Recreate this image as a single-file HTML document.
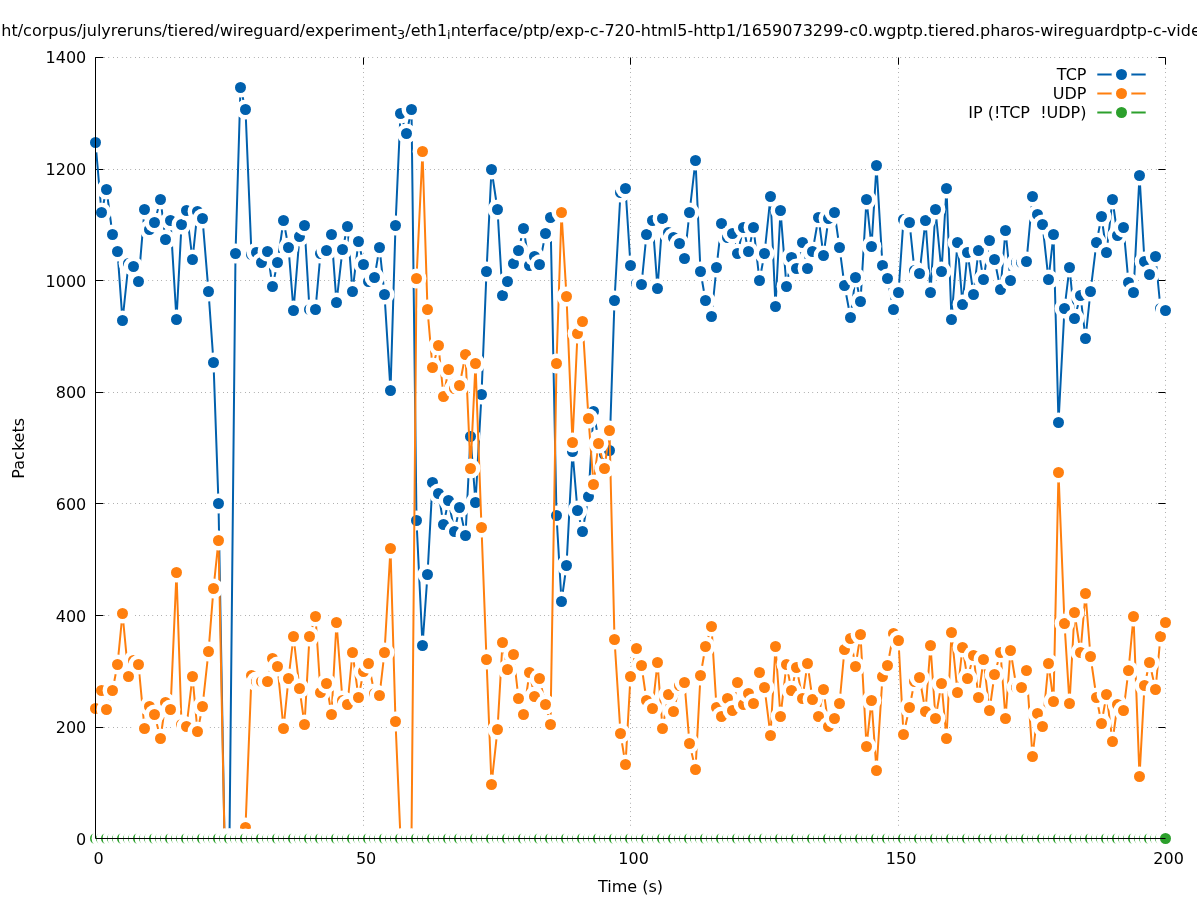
<!DOCTYPE html>
<html lang="en"><head><meta charset="utf-8"><title>Packets over time</title>
<style>html,body{margin:0;padding:0;background:#fff;overflow:hidden}svg{display:block;font-family:"DejaVu Sans","Liberation Sans",sans-serif;font-size:16px;fill:#000}.g{stroke:#000;stroke-width:1;stroke-dasharray:.31 4.09;fill:none}.t{stroke:#000;stroke-width:1;fill:none}.h{fill:#fff}text{white-space:pre}</style></head><body>
<svg width="1197" height="900" viewBox="0 0 1197 900">
<rect width="1197" height="900" fill="#fff"/>
<g class="g">
<path d="M95.56 838.5H1165.5"/>
<path d="M95.56 727.5H1165.5"/>
<path d="M95.56 615.5H1165.5"/>
<path d="M95.56 503.5H1165.5"/>
<path d="M95.56 392.5H1165.5"/>
<path d="M95.56 280.5H1165.5"/>
<path d="M95.56 169.5H1165.5"/>
<path d="M95.56 57.5H1165.5"/>
<path d="M95.5 838.44V57.5"/>
<path d="M363.5 838.44V57.5"/>
<path d="M630.5 838.44V57.5"/>
<path d="M898.5 838.44V57.5"/>
<path d="M1165.5 838.44V57.5"/>
</g>
<g class="t">
<path d="M95.5 838.5h7.9 M1165.5 838.5h-7.2"/>
<path d="M95.5 727.5h7.9 M1165.5 727.5h-7.2"/>
<path d="M95.5 615.5h7.9 M1165.5 615.5h-7.2"/>
<path d="M95.5 503.5h7.9 M1165.5 503.5h-7.2"/>
<path d="M95.5 392.5h7.9 M1165.5 392.5h-7.2"/>
<path d="M95.5 280.5h7.9 M1165.5 280.5h-7.2"/>
<path d="M95.5 169.5h7.9 M1165.5 169.5h-7.2"/>
<path d="M95.5 57.5h7.9 M1165.5 57.5h-7.2"/>
<path d="M95.5 838.5v-7.2 M95.5 57.5v7.2"/>
<path d="M363.5 838.5v-7.2 M363.5 57.5v7.2"/>
<path d="M630.5 838.5v-7.2 M630.5 57.5v7.2"/>
<path d="M898.5 838.5v-7.2 M898.5 57.5v7.2"/>
<path d="M1165.5 838.5v-7.2 M1165.5 57.5v7.2"/>
</g>
<g>
<text x="1086.5" y="80.3" text-anchor="end" xml:space="preserve">TCP</text>
<path d="M1097.3 74.5H1145.7" stroke="#0060ad" stroke-width="2" fill="none"/>
<circle class="h" cx="1121.5" cy="74.5" r="9.9"/><circle cx="1121.5" cy="74.5" r="5.5" fill="#0060ad"/>
<polyline points="95.5,142.5 101.5,212.5 106.5,189.5 112.5,234.5 117.5,251.5 122.5,320.5 128.5,263.5 133.5,266.5 138.5,281.5 144.5,209.5 149.5,229.5 154.5,222.5 160.5,199.5 165.5,239.5 170.5,220.5 176.5,319.5 181.5,224.5 186.5,210.5 192.5,259.5 197.5,211.5 202.5,218.5 208.5,291.5 213.5,362.5 218.5,503.5 224.5,838.5 229.5,838.5 235.5,253.5 240.5,87.5 245.5,109.5 251.5,254.5 256.5,252.5 261.5,262.5 267.5,251.5 272.5,286.5 277.5,262.5 283.5,220.5 288.5,247.5 293.5,310.5 299.5,236.5 304.5,225.5 309.5,309.5 315.5,309.5 320.5,253.5 326.5,250.5 331.5,234.5 336.5,302.5 342.5,249.5 347.5,226.5 352.5,291.5 358.5,241.5 363.5,264.5 368.5,281.5 374.5,277.5 379.5,247.5 384.5,294.5 390.5,390.5 395.5,225.5 400.5,113.5 406.5,133.5 411.5,109.5 416.5,520.5 422.5,645.5 427.5,574.5 432.5,482.5 438.5,493.5 443.5,524.5 448.5,500.5 454.5,531.5 459.5,507.5 465.5,535.5 470.5,436.5 475.5,502.5 481.5,394.5 486.5,271.5 491.5,169.5 497.5,209.5 502.5,295.5 507.5,281.5 513.5,263.5 518.5,250.5 523.5,228.5 529.5,265.5 534.5,256.5 539.5,264.5 545.5,233.5 550.5,217.5 556.5,515.5 561.5,601.5 566.5,565.5 572.5,451.5 577.5,510.5 582.5,531.5 588.5,496.5 593.5,411.5 598.5,439.5 604.5,454.5 609.5,450.5 614.5,300.5 620.5,192.5 625.5,188.5 630.5,265.5 636.5,283.5 641.5,284.5 646.5,234.5 652.5,220.5 657.5,288.5 662.5,218.5 668.5,232.5 673.5,237.5 679.5,243.5 684.5,258.5 689.5,212.5 695.5,160.5 700.5,271.5 705.5,300.5 711.5,316.5 716.5,267.5 721.5,223.5 727.5,237.5 732.5,233.5 737.5,253.5 743.5,227.5 748.5,251.5 753.5,227.5 759.5,280.5 764.5,253.5 770.5,196.5 775.5,306.5 780.5,210.5 786.5,286.5 791.5,257.5 796.5,268.5 802.5,242.5 807.5,268.5 812.5,251.5 818.5,217.5 823.5,255.5 828.5,218.5 834.5,212.5 839.5,247.5 844.5,285.5 850.5,317.5 855.5,277.5 860.5,301.5 866.5,199.5 871.5,246.5 876.5,165.5 882.5,265.5 887.5,278.5 893.5,309.5 898.5,292.5 903.5,219.5 909.5,222.5 914.5,270.5 919.5,273.5 925.5,220.5 930.5,292.5 935.5,209.5 941.5,271.5 946.5,188.5 951.5,319.5 957.5,242.5 962.5,304.5 967.5,252.5 973.5,294.5 978.5,250.5 983.5,279.5 989.5,240.5 994.5,259.5 1000.5,289.5 1005.5,230.5 1010.5,280.5 1016.5,262.5 1021.5,262.5 1026.5,261.5 1032.5,196.5 1037.5,214.5 1042.5,224.5 1048.5,279.5 1053.5,234.5 1058.5,422.5 1064.5,308.5 1069.5,267.5 1074.5,318.5 1080.5,295.5 1085.5,338.5 1090.5,291.5 1096.5,242.5 1101.5,216.5 1106.5,252.5 1112.5,199.5 1117.5,235.5 1123.5,227.5 1128.5,282.5 1133.5,292.5 1139.5,175.5 1144.5,261.5 1149.5,274.5 1155.5,256.5 1160.5,308.5 1165.5,310.5" fill="none" stroke="#0060ad" stroke-width="2" stroke-linejoin="round" stroke-linecap="butt"/>
<circle class="h" cx="95.5" cy="142.5" r="9.9"/><circle cx="95.5" cy="142.5" r="5.5" fill="#0060ad"/>
<circle class="h" cx="101.5" cy="212.5" r="9.9"/><circle cx="101.5" cy="212.5" r="5.5" fill="#0060ad"/>
<circle class="h" cx="106.5" cy="189.5" r="9.9"/><circle cx="106.5" cy="189.5" r="5.5" fill="#0060ad"/>
<circle class="h" cx="112.5" cy="234.5" r="9.9"/><circle cx="112.5" cy="234.5" r="5.5" fill="#0060ad"/>
<circle class="h" cx="117.5" cy="251.5" r="9.9"/><circle cx="117.5" cy="251.5" r="5.5" fill="#0060ad"/>
<circle class="h" cx="122.5" cy="320.5" r="9.9"/><circle cx="122.5" cy="320.5" r="5.5" fill="#0060ad"/>
<circle class="h" cx="128.5" cy="263.5" r="9.9"/><circle cx="128.5" cy="263.5" r="5.5" fill="#0060ad"/>
<circle class="h" cx="133.5" cy="266.5" r="9.9"/><circle cx="133.5" cy="266.5" r="5.5" fill="#0060ad"/>
<circle class="h" cx="138.5" cy="281.5" r="9.9"/><circle cx="138.5" cy="281.5" r="5.5" fill="#0060ad"/>
<circle class="h" cx="144.5" cy="209.5" r="9.9"/><circle cx="144.5" cy="209.5" r="5.5" fill="#0060ad"/>
<circle class="h" cx="149.5" cy="229.5" r="9.9"/><circle cx="149.5" cy="229.5" r="5.5" fill="#0060ad"/>
<circle class="h" cx="154.5" cy="222.5" r="9.9"/><circle cx="154.5" cy="222.5" r="5.5" fill="#0060ad"/>
<circle class="h" cx="160.5" cy="199.5" r="9.9"/><circle cx="160.5" cy="199.5" r="5.5" fill="#0060ad"/>
<circle class="h" cx="165.5" cy="239.5" r="9.9"/><circle cx="165.5" cy="239.5" r="5.5" fill="#0060ad"/>
<circle class="h" cx="170.5" cy="220.5" r="9.9"/><circle cx="170.5" cy="220.5" r="5.5" fill="#0060ad"/>
<circle class="h" cx="176.5" cy="319.5" r="9.9"/><circle cx="176.5" cy="319.5" r="5.5" fill="#0060ad"/>
<circle class="h" cx="181.5" cy="224.5" r="9.9"/><circle cx="181.5" cy="224.5" r="5.5" fill="#0060ad"/>
<circle class="h" cx="186.5" cy="210.5" r="9.9"/><circle cx="186.5" cy="210.5" r="5.5" fill="#0060ad"/>
<circle class="h" cx="192.5" cy="259.5" r="9.9"/><circle cx="192.5" cy="259.5" r="5.5" fill="#0060ad"/>
<circle class="h" cx="197.5" cy="211.5" r="9.9"/><circle cx="197.5" cy="211.5" r="5.5" fill="#0060ad"/>
<circle class="h" cx="202.5" cy="218.5" r="9.9"/><circle cx="202.5" cy="218.5" r="5.5" fill="#0060ad"/>
<circle class="h" cx="208.5" cy="291.5" r="9.9"/><circle cx="208.5" cy="291.5" r="5.5" fill="#0060ad"/>
<circle class="h" cx="213.5" cy="362.5" r="9.9"/><circle cx="213.5" cy="362.5" r="5.5" fill="#0060ad"/>
<circle class="h" cx="218.5" cy="503.5" r="9.9"/><circle cx="218.5" cy="503.5" r="5.5" fill="#0060ad"/>
<circle class="h" cx="224.5" cy="838.5" r="9.9"/><circle cx="224.5" cy="838.5" r="5.5" fill="#0060ad"/>
<circle class="h" cx="229.5" cy="838.5" r="9.9"/><circle cx="229.5" cy="838.5" r="5.5" fill="#0060ad"/>
<circle class="h" cx="235.5" cy="253.5" r="9.9"/><circle cx="235.5" cy="253.5" r="5.5" fill="#0060ad"/>
<circle class="h" cx="240.5" cy="87.5" r="9.9"/><circle cx="240.5" cy="87.5" r="5.5" fill="#0060ad"/>
<circle class="h" cx="245.5" cy="109.5" r="9.9"/><circle cx="245.5" cy="109.5" r="5.5" fill="#0060ad"/>
<circle class="h" cx="251.5" cy="254.5" r="9.9"/><circle cx="251.5" cy="254.5" r="5.5" fill="#0060ad"/>
<circle class="h" cx="256.5" cy="252.5" r="9.9"/><circle cx="256.5" cy="252.5" r="5.5" fill="#0060ad"/>
<circle class="h" cx="261.5" cy="262.5" r="9.9"/><circle cx="261.5" cy="262.5" r="5.5" fill="#0060ad"/>
<circle class="h" cx="267.5" cy="251.5" r="9.9"/><circle cx="267.5" cy="251.5" r="5.5" fill="#0060ad"/>
<circle class="h" cx="272.5" cy="286.5" r="9.9"/><circle cx="272.5" cy="286.5" r="5.5" fill="#0060ad"/>
<circle class="h" cx="277.5" cy="262.5" r="9.9"/><circle cx="277.5" cy="262.5" r="5.5" fill="#0060ad"/>
<circle class="h" cx="283.5" cy="220.5" r="9.9"/><circle cx="283.5" cy="220.5" r="5.5" fill="#0060ad"/>
<circle class="h" cx="288.5" cy="247.5" r="9.9"/><circle cx="288.5" cy="247.5" r="5.5" fill="#0060ad"/>
<circle class="h" cx="293.5" cy="310.5" r="9.9"/><circle cx="293.5" cy="310.5" r="5.5" fill="#0060ad"/>
<circle class="h" cx="299.5" cy="236.5" r="9.9"/><circle cx="299.5" cy="236.5" r="5.5" fill="#0060ad"/>
<circle class="h" cx="304.5" cy="225.5" r="9.9"/><circle cx="304.5" cy="225.5" r="5.5" fill="#0060ad"/>
<circle class="h" cx="309.5" cy="309.5" r="9.9"/><circle cx="309.5" cy="309.5" r="5.5" fill="#0060ad"/>
<circle class="h" cx="315.5" cy="309.5" r="9.9"/><circle cx="315.5" cy="309.5" r="5.5" fill="#0060ad"/>
<circle class="h" cx="320.5" cy="253.5" r="9.9"/><circle cx="320.5" cy="253.5" r="5.5" fill="#0060ad"/>
<circle class="h" cx="326.5" cy="250.5" r="9.9"/><circle cx="326.5" cy="250.5" r="5.5" fill="#0060ad"/>
<circle class="h" cx="331.5" cy="234.5" r="9.9"/><circle cx="331.5" cy="234.5" r="5.5" fill="#0060ad"/>
<circle class="h" cx="336.5" cy="302.5" r="9.9"/><circle cx="336.5" cy="302.5" r="5.5" fill="#0060ad"/>
<circle class="h" cx="342.5" cy="249.5" r="9.9"/><circle cx="342.5" cy="249.5" r="5.5" fill="#0060ad"/>
<circle class="h" cx="347.5" cy="226.5" r="9.9"/><circle cx="347.5" cy="226.5" r="5.5" fill="#0060ad"/>
<circle class="h" cx="352.5" cy="291.5" r="9.9"/><circle cx="352.5" cy="291.5" r="5.5" fill="#0060ad"/>
<circle class="h" cx="358.5" cy="241.5" r="9.9"/><circle cx="358.5" cy="241.5" r="5.5" fill="#0060ad"/>
<circle class="h" cx="363.5" cy="264.5" r="9.9"/><circle cx="363.5" cy="264.5" r="5.5" fill="#0060ad"/>
<circle class="h" cx="368.5" cy="281.5" r="9.9"/><circle cx="368.5" cy="281.5" r="5.5" fill="#0060ad"/>
<circle class="h" cx="374.5" cy="277.5" r="9.9"/><circle cx="374.5" cy="277.5" r="5.5" fill="#0060ad"/>
<circle class="h" cx="379.5" cy="247.5" r="9.9"/><circle cx="379.5" cy="247.5" r="5.5" fill="#0060ad"/>
<circle class="h" cx="384.5" cy="294.5" r="9.9"/><circle cx="384.5" cy="294.5" r="5.5" fill="#0060ad"/>
<circle class="h" cx="390.5" cy="390.5" r="9.9"/><circle cx="390.5" cy="390.5" r="5.5" fill="#0060ad"/>
<circle class="h" cx="395.5" cy="225.5" r="9.9"/><circle cx="395.5" cy="225.5" r="5.5" fill="#0060ad"/>
<circle class="h" cx="400.5" cy="113.5" r="9.9"/><circle cx="400.5" cy="113.5" r="5.5" fill="#0060ad"/>
<circle class="h" cx="406.5" cy="133.5" r="9.9"/><circle cx="406.5" cy="133.5" r="5.5" fill="#0060ad"/>
<circle class="h" cx="411.5" cy="109.5" r="9.9"/><circle cx="411.5" cy="109.5" r="5.5" fill="#0060ad"/>
<circle class="h" cx="416.5" cy="520.5" r="9.9"/><circle cx="416.5" cy="520.5" r="5.5" fill="#0060ad"/>
<circle class="h" cx="422.5" cy="645.5" r="9.9"/><circle cx="422.5" cy="645.5" r="5.5" fill="#0060ad"/>
<circle class="h" cx="427.5" cy="574.5" r="9.9"/><circle cx="427.5" cy="574.5" r="5.5" fill="#0060ad"/>
<circle class="h" cx="432.5" cy="482.5" r="9.9"/><circle cx="432.5" cy="482.5" r="5.5" fill="#0060ad"/>
<circle class="h" cx="438.5" cy="493.5" r="9.9"/><circle cx="438.5" cy="493.5" r="5.5" fill="#0060ad"/>
<circle class="h" cx="443.5" cy="524.5" r="9.9"/><circle cx="443.5" cy="524.5" r="5.5" fill="#0060ad"/>
<circle class="h" cx="448.5" cy="500.5" r="9.9"/><circle cx="448.5" cy="500.5" r="5.5" fill="#0060ad"/>
<circle class="h" cx="454.5" cy="531.5" r="9.9"/><circle cx="454.5" cy="531.5" r="5.5" fill="#0060ad"/>
<circle class="h" cx="459.5" cy="507.5" r="9.9"/><circle cx="459.5" cy="507.5" r="5.5" fill="#0060ad"/>
<circle class="h" cx="465.5" cy="535.5" r="9.9"/><circle cx="465.5" cy="535.5" r="5.5" fill="#0060ad"/>
<circle class="h" cx="470.5" cy="436.5" r="9.9"/><circle cx="470.5" cy="436.5" r="5.5" fill="#0060ad"/>
<circle class="h" cx="475.5" cy="502.5" r="9.9"/><circle cx="475.5" cy="502.5" r="5.5" fill="#0060ad"/>
<circle class="h" cx="481.5" cy="394.5" r="9.9"/><circle cx="481.5" cy="394.5" r="5.5" fill="#0060ad"/>
<circle class="h" cx="486.5" cy="271.5" r="9.9"/><circle cx="486.5" cy="271.5" r="5.5" fill="#0060ad"/>
<circle class="h" cx="491.5" cy="169.5" r="9.9"/><circle cx="491.5" cy="169.5" r="5.5" fill="#0060ad"/>
<circle class="h" cx="497.5" cy="209.5" r="9.9"/><circle cx="497.5" cy="209.5" r="5.5" fill="#0060ad"/>
<circle class="h" cx="502.5" cy="295.5" r="9.9"/><circle cx="502.5" cy="295.5" r="5.5" fill="#0060ad"/>
<circle class="h" cx="507.5" cy="281.5" r="9.9"/><circle cx="507.5" cy="281.5" r="5.5" fill="#0060ad"/>
<circle class="h" cx="513.5" cy="263.5" r="9.9"/><circle cx="513.5" cy="263.5" r="5.5" fill="#0060ad"/>
<circle class="h" cx="518.5" cy="250.5" r="9.9"/><circle cx="518.5" cy="250.5" r="5.5" fill="#0060ad"/>
<circle class="h" cx="523.5" cy="228.5" r="9.9"/><circle cx="523.5" cy="228.5" r="5.5" fill="#0060ad"/>
<circle class="h" cx="529.5" cy="265.5" r="9.9"/><circle cx="529.5" cy="265.5" r="5.5" fill="#0060ad"/>
<circle class="h" cx="534.5" cy="256.5" r="9.9"/><circle cx="534.5" cy="256.5" r="5.5" fill="#0060ad"/>
<circle class="h" cx="539.5" cy="264.5" r="9.9"/><circle cx="539.5" cy="264.5" r="5.5" fill="#0060ad"/>
<circle class="h" cx="545.5" cy="233.5" r="9.9"/><circle cx="545.5" cy="233.5" r="5.5" fill="#0060ad"/>
<circle class="h" cx="550.5" cy="217.5" r="9.9"/><circle cx="550.5" cy="217.5" r="5.5" fill="#0060ad"/>
<circle class="h" cx="556.5" cy="515.5" r="9.9"/><circle cx="556.5" cy="515.5" r="5.5" fill="#0060ad"/>
<circle class="h" cx="561.5" cy="601.5" r="9.9"/><circle cx="561.5" cy="601.5" r="5.5" fill="#0060ad"/>
<circle class="h" cx="566.5" cy="565.5" r="9.9"/><circle cx="566.5" cy="565.5" r="5.5" fill="#0060ad"/>
<circle class="h" cx="572.5" cy="451.5" r="9.9"/><circle cx="572.5" cy="451.5" r="5.5" fill="#0060ad"/>
<circle class="h" cx="577.5" cy="510.5" r="9.9"/><circle cx="577.5" cy="510.5" r="5.5" fill="#0060ad"/>
<circle class="h" cx="582.5" cy="531.5" r="9.9"/><circle cx="582.5" cy="531.5" r="5.5" fill="#0060ad"/>
<circle class="h" cx="588.5" cy="496.5" r="9.9"/><circle cx="588.5" cy="496.5" r="5.5" fill="#0060ad"/>
<circle class="h" cx="593.5" cy="411.5" r="9.9"/><circle cx="593.5" cy="411.5" r="5.5" fill="#0060ad"/>
<circle class="h" cx="598.5" cy="439.5" r="9.9"/><circle cx="598.5" cy="439.5" r="5.5" fill="#0060ad"/>
<circle class="h" cx="604.5" cy="454.5" r="9.9"/><circle cx="604.5" cy="454.5" r="5.5" fill="#0060ad"/>
<circle class="h" cx="609.5" cy="450.5" r="9.9"/><circle cx="609.5" cy="450.5" r="5.5" fill="#0060ad"/>
<circle class="h" cx="614.5" cy="300.5" r="9.9"/><circle cx="614.5" cy="300.5" r="5.5" fill="#0060ad"/>
<circle class="h" cx="620.5" cy="192.5" r="9.9"/><circle cx="620.5" cy="192.5" r="5.5" fill="#0060ad"/>
<circle class="h" cx="625.5" cy="188.5" r="9.9"/><circle cx="625.5" cy="188.5" r="5.5" fill="#0060ad"/>
<circle class="h" cx="630.5" cy="265.5" r="9.9"/><circle cx="630.5" cy="265.5" r="5.5" fill="#0060ad"/>
<circle class="h" cx="636.5" cy="283.5" r="9.9"/><circle cx="636.5" cy="283.5" r="5.5" fill="#0060ad"/>
<circle class="h" cx="641.5" cy="284.5" r="9.9"/><circle cx="641.5" cy="284.5" r="5.5" fill="#0060ad"/>
<circle class="h" cx="646.5" cy="234.5" r="9.9"/><circle cx="646.5" cy="234.5" r="5.5" fill="#0060ad"/>
<circle class="h" cx="652.5" cy="220.5" r="9.9"/><circle cx="652.5" cy="220.5" r="5.5" fill="#0060ad"/>
<circle class="h" cx="657.5" cy="288.5" r="9.9"/><circle cx="657.5" cy="288.5" r="5.5" fill="#0060ad"/>
<circle class="h" cx="662.5" cy="218.5" r="9.9"/><circle cx="662.5" cy="218.5" r="5.5" fill="#0060ad"/>
<circle class="h" cx="668.5" cy="232.5" r="9.9"/><circle cx="668.5" cy="232.5" r="5.5" fill="#0060ad"/>
<circle class="h" cx="673.5" cy="237.5" r="9.9"/><circle cx="673.5" cy="237.5" r="5.5" fill="#0060ad"/>
<circle class="h" cx="679.5" cy="243.5" r="9.9"/><circle cx="679.5" cy="243.5" r="5.5" fill="#0060ad"/>
<circle class="h" cx="684.5" cy="258.5" r="9.9"/><circle cx="684.5" cy="258.5" r="5.5" fill="#0060ad"/>
<circle class="h" cx="689.5" cy="212.5" r="9.9"/><circle cx="689.5" cy="212.5" r="5.5" fill="#0060ad"/>
<circle class="h" cx="695.5" cy="160.5" r="9.9"/><circle cx="695.5" cy="160.5" r="5.5" fill="#0060ad"/>
<circle class="h" cx="700.5" cy="271.5" r="9.9"/><circle cx="700.5" cy="271.5" r="5.5" fill="#0060ad"/>
<circle class="h" cx="705.5" cy="300.5" r="9.9"/><circle cx="705.5" cy="300.5" r="5.5" fill="#0060ad"/>
<circle class="h" cx="711.5" cy="316.5" r="9.9"/><circle cx="711.5" cy="316.5" r="5.5" fill="#0060ad"/>
<circle class="h" cx="716.5" cy="267.5" r="9.9"/><circle cx="716.5" cy="267.5" r="5.5" fill="#0060ad"/>
<circle class="h" cx="721.5" cy="223.5" r="9.9"/><circle cx="721.5" cy="223.5" r="5.5" fill="#0060ad"/>
<circle class="h" cx="727.5" cy="237.5" r="9.9"/><circle cx="727.5" cy="237.5" r="5.5" fill="#0060ad"/>
<circle class="h" cx="732.5" cy="233.5" r="9.9"/><circle cx="732.5" cy="233.5" r="5.5" fill="#0060ad"/>
<circle class="h" cx="737.5" cy="253.5" r="9.9"/><circle cx="737.5" cy="253.5" r="5.5" fill="#0060ad"/>
<circle class="h" cx="743.5" cy="227.5" r="9.9"/><circle cx="743.5" cy="227.5" r="5.5" fill="#0060ad"/>
<circle class="h" cx="748.5" cy="251.5" r="9.9"/><circle cx="748.5" cy="251.5" r="5.5" fill="#0060ad"/>
<circle class="h" cx="753.5" cy="227.5" r="9.9"/><circle cx="753.5" cy="227.5" r="5.5" fill="#0060ad"/>
<circle class="h" cx="759.5" cy="280.5" r="9.9"/><circle cx="759.5" cy="280.5" r="5.5" fill="#0060ad"/>
<circle class="h" cx="764.5" cy="253.5" r="9.9"/><circle cx="764.5" cy="253.5" r="5.5" fill="#0060ad"/>
<circle class="h" cx="770.5" cy="196.5" r="9.9"/><circle cx="770.5" cy="196.5" r="5.5" fill="#0060ad"/>
<circle class="h" cx="775.5" cy="306.5" r="9.9"/><circle cx="775.5" cy="306.5" r="5.5" fill="#0060ad"/>
<circle class="h" cx="780.5" cy="210.5" r="9.9"/><circle cx="780.5" cy="210.5" r="5.5" fill="#0060ad"/>
<circle class="h" cx="786.5" cy="286.5" r="9.9"/><circle cx="786.5" cy="286.5" r="5.5" fill="#0060ad"/>
<circle class="h" cx="791.5" cy="257.5" r="9.9"/><circle cx="791.5" cy="257.5" r="5.5" fill="#0060ad"/>
<circle class="h" cx="796.5" cy="268.5" r="9.9"/><circle cx="796.5" cy="268.5" r="5.5" fill="#0060ad"/>
<circle class="h" cx="802.5" cy="242.5" r="9.9"/><circle cx="802.5" cy="242.5" r="5.5" fill="#0060ad"/>
<circle class="h" cx="807.5" cy="268.5" r="9.9"/><circle cx="807.5" cy="268.5" r="5.5" fill="#0060ad"/>
<circle class="h" cx="812.5" cy="251.5" r="9.9"/><circle cx="812.5" cy="251.5" r="5.5" fill="#0060ad"/>
<circle class="h" cx="818.5" cy="217.5" r="9.9"/><circle cx="818.5" cy="217.5" r="5.5" fill="#0060ad"/>
<circle class="h" cx="823.5" cy="255.5" r="9.9"/><circle cx="823.5" cy="255.5" r="5.5" fill="#0060ad"/>
<circle class="h" cx="828.5" cy="218.5" r="9.9"/><circle cx="828.5" cy="218.5" r="5.5" fill="#0060ad"/>
<circle class="h" cx="834.5" cy="212.5" r="9.9"/><circle cx="834.5" cy="212.5" r="5.5" fill="#0060ad"/>
<circle class="h" cx="839.5" cy="247.5" r="9.9"/><circle cx="839.5" cy="247.5" r="5.5" fill="#0060ad"/>
<circle class="h" cx="844.5" cy="285.5" r="9.9"/><circle cx="844.5" cy="285.5" r="5.5" fill="#0060ad"/>
<circle class="h" cx="850.5" cy="317.5" r="9.9"/><circle cx="850.5" cy="317.5" r="5.5" fill="#0060ad"/>
<circle class="h" cx="855.5" cy="277.5" r="9.9"/><circle cx="855.5" cy="277.5" r="5.5" fill="#0060ad"/>
<circle class="h" cx="860.5" cy="301.5" r="9.9"/><circle cx="860.5" cy="301.5" r="5.5" fill="#0060ad"/>
<circle class="h" cx="866.5" cy="199.5" r="9.9"/><circle cx="866.5" cy="199.5" r="5.5" fill="#0060ad"/>
<circle class="h" cx="871.5" cy="246.5" r="9.9"/><circle cx="871.5" cy="246.5" r="5.5" fill="#0060ad"/>
<circle class="h" cx="876.5" cy="165.5" r="9.9"/><circle cx="876.5" cy="165.5" r="5.5" fill="#0060ad"/>
<circle class="h" cx="882.5" cy="265.5" r="9.9"/><circle cx="882.5" cy="265.5" r="5.5" fill="#0060ad"/>
<circle class="h" cx="887.5" cy="278.5" r="9.9"/><circle cx="887.5" cy="278.5" r="5.5" fill="#0060ad"/>
<circle class="h" cx="893.5" cy="309.5" r="9.9"/><circle cx="893.5" cy="309.5" r="5.5" fill="#0060ad"/>
<circle class="h" cx="898.5" cy="292.5" r="9.9"/><circle cx="898.5" cy="292.5" r="5.5" fill="#0060ad"/>
<circle class="h" cx="903.5" cy="219.5" r="9.9"/><circle cx="903.5" cy="219.5" r="5.5" fill="#0060ad"/>
<circle class="h" cx="909.5" cy="222.5" r="9.9"/><circle cx="909.5" cy="222.5" r="5.5" fill="#0060ad"/>
<circle class="h" cx="914.5" cy="270.5" r="9.9"/><circle cx="914.5" cy="270.5" r="5.5" fill="#0060ad"/>
<circle class="h" cx="919.5" cy="273.5" r="9.9"/><circle cx="919.5" cy="273.5" r="5.5" fill="#0060ad"/>
<circle class="h" cx="925.5" cy="220.5" r="9.9"/><circle cx="925.5" cy="220.5" r="5.5" fill="#0060ad"/>
<circle class="h" cx="930.5" cy="292.5" r="9.9"/><circle cx="930.5" cy="292.5" r="5.5" fill="#0060ad"/>
<circle class="h" cx="935.5" cy="209.5" r="9.9"/><circle cx="935.5" cy="209.5" r="5.5" fill="#0060ad"/>
<circle class="h" cx="941.5" cy="271.5" r="9.9"/><circle cx="941.5" cy="271.5" r="5.5" fill="#0060ad"/>
<circle class="h" cx="946.5" cy="188.5" r="9.9"/><circle cx="946.5" cy="188.5" r="5.5" fill="#0060ad"/>
<circle class="h" cx="951.5" cy="319.5" r="9.9"/><circle cx="951.5" cy="319.5" r="5.5" fill="#0060ad"/>
<circle class="h" cx="957.5" cy="242.5" r="9.9"/><circle cx="957.5" cy="242.5" r="5.5" fill="#0060ad"/>
<circle class="h" cx="962.5" cy="304.5" r="9.9"/><circle cx="962.5" cy="304.5" r="5.5" fill="#0060ad"/>
<circle class="h" cx="967.5" cy="252.5" r="9.9"/><circle cx="967.5" cy="252.5" r="5.5" fill="#0060ad"/>
<circle class="h" cx="973.5" cy="294.5" r="9.9"/><circle cx="973.5" cy="294.5" r="5.5" fill="#0060ad"/>
<circle class="h" cx="978.5" cy="250.5" r="9.9"/><circle cx="978.5" cy="250.5" r="5.5" fill="#0060ad"/>
<circle class="h" cx="983.5" cy="279.5" r="9.9"/><circle cx="983.5" cy="279.5" r="5.5" fill="#0060ad"/>
<circle class="h" cx="989.5" cy="240.5" r="9.9"/><circle cx="989.5" cy="240.5" r="5.5" fill="#0060ad"/>
<circle class="h" cx="994.5" cy="259.5" r="9.9"/><circle cx="994.5" cy="259.5" r="5.5" fill="#0060ad"/>
<circle class="h" cx="1000.5" cy="289.5" r="9.9"/><circle cx="1000.5" cy="289.5" r="5.5" fill="#0060ad"/>
<circle class="h" cx="1005.5" cy="230.5" r="9.9"/><circle cx="1005.5" cy="230.5" r="5.5" fill="#0060ad"/>
<circle class="h" cx="1010.5" cy="280.5" r="9.9"/><circle cx="1010.5" cy="280.5" r="5.5" fill="#0060ad"/>
<circle class="h" cx="1016.5" cy="262.5" r="9.9"/><circle cx="1016.5" cy="262.5" r="5.5" fill="#0060ad"/>
<circle class="h" cx="1021.5" cy="262.5" r="9.9"/><circle cx="1021.5" cy="262.5" r="5.5" fill="#0060ad"/>
<circle class="h" cx="1026.5" cy="261.5" r="9.9"/><circle cx="1026.5" cy="261.5" r="5.5" fill="#0060ad"/>
<circle class="h" cx="1032.5" cy="196.5" r="9.9"/><circle cx="1032.5" cy="196.5" r="5.5" fill="#0060ad"/>
<circle class="h" cx="1037.5" cy="214.5" r="9.9"/><circle cx="1037.5" cy="214.5" r="5.5" fill="#0060ad"/>
<circle class="h" cx="1042.5" cy="224.5" r="9.9"/><circle cx="1042.5" cy="224.5" r="5.5" fill="#0060ad"/>
<circle class="h" cx="1048.5" cy="279.5" r="9.9"/><circle cx="1048.5" cy="279.5" r="5.5" fill="#0060ad"/>
<circle class="h" cx="1053.5" cy="234.5" r="9.9"/><circle cx="1053.5" cy="234.5" r="5.5" fill="#0060ad"/>
<circle class="h" cx="1058.5" cy="422.5" r="9.9"/><circle cx="1058.5" cy="422.5" r="5.5" fill="#0060ad"/>
<circle class="h" cx="1064.5" cy="308.5" r="9.9"/><circle cx="1064.5" cy="308.5" r="5.5" fill="#0060ad"/>
<circle class="h" cx="1069.5" cy="267.5" r="9.9"/><circle cx="1069.5" cy="267.5" r="5.5" fill="#0060ad"/>
<circle class="h" cx="1074.5" cy="318.5" r="9.9"/><circle cx="1074.5" cy="318.5" r="5.5" fill="#0060ad"/>
<circle class="h" cx="1080.5" cy="295.5" r="9.9"/><circle cx="1080.5" cy="295.5" r="5.5" fill="#0060ad"/>
<circle class="h" cx="1085.5" cy="338.5" r="9.9"/><circle cx="1085.5" cy="338.5" r="5.5" fill="#0060ad"/>
<circle class="h" cx="1090.5" cy="291.5" r="9.9"/><circle cx="1090.5" cy="291.5" r="5.5" fill="#0060ad"/>
<circle class="h" cx="1096.5" cy="242.5" r="9.9"/><circle cx="1096.5" cy="242.5" r="5.5" fill="#0060ad"/>
<circle class="h" cx="1101.5" cy="216.5" r="9.9"/><circle cx="1101.5" cy="216.5" r="5.5" fill="#0060ad"/>
<circle class="h" cx="1106.5" cy="252.5" r="9.9"/><circle cx="1106.5" cy="252.5" r="5.5" fill="#0060ad"/>
<circle class="h" cx="1112.5" cy="199.5" r="9.9"/><circle cx="1112.5" cy="199.5" r="5.5" fill="#0060ad"/>
<circle class="h" cx="1117.5" cy="235.5" r="9.9"/><circle cx="1117.5" cy="235.5" r="5.5" fill="#0060ad"/>
<circle class="h" cx="1123.5" cy="227.5" r="9.9"/><circle cx="1123.5" cy="227.5" r="5.5" fill="#0060ad"/>
<circle class="h" cx="1128.5" cy="282.5" r="9.9"/><circle cx="1128.5" cy="282.5" r="5.5" fill="#0060ad"/>
<circle class="h" cx="1133.5" cy="292.5" r="9.9"/><circle cx="1133.5" cy="292.5" r="5.5" fill="#0060ad"/>
<circle class="h" cx="1139.5" cy="175.5" r="9.9"/><circle cx="1139.5" cy="175.5" r="5.5" fill="#0060ad"/>
<circle class="h" cx="1144.5" cy="261.5" r="9.9"/><circle cx="1144.5" cy="261.5" r="5.5" fill="#0060ad"/>
<circle class="h" cx="1149.5" cy="274.5" r="9.9"/><circle cx="1149.5" cy="274.5" r="5.5" fill="#0060ad"/>
<circle class="h" cx="1155.5" cy="256.5" r="9.9"/><circle cx="1155.5" cy="256.5" r="5.5" fill="#0060ad"/>
<circle class="h" cx="1160.5" cy="308.5" r="9.9"/><circle cx="1160.5" cy="308.5" r="5.5" fill="#0060ad"/>
<circle class="h" cx="1165.5" cy="310.5" r="9.9"/><circle cx="1165.5" cy="310.5" r="5.5" fill="#0060ad"/>
<text x="1086.5" y="99.3" text-anchor="end" xml:space="preserve">UDP</text>
<path d="M1097.3 93.5H1145.7" stroke="#ff7f0e" stroke-width="2" fill="none"/>
<circle class="h" cx="1121.5" cy="93.5" r="9.9"/><circle cx="1121.5" cy="93.5" r="5.5" fill="#ff7f0e"/>
<polyline points="95.5,708.5 101.5,690.5 106.5,709.5 112.5,690.5 117.5,664.5 122.5,613.5 128.5,676.5 133.5,660.5 138.5,664.5 144.5,728.5 149.5,706.5 154.5,714.5 160.5,738.5 165.5,702.5 170.5,709.5 176.5,572.5 181.5,724.5 186.5,726.5 192.5,676.5 197.5,731.5 202.5,706.5 208.5,651.5 213.5,588.5 218.5,540.5 224.5,838.5 229.5,838.5 235.5,838.5 240.5,838.5 245.5,827.5 251.5,675.5 256.5,681.5 261.5,681.5 267.5,681.5 272.5,658.5 277.5,666.5 283.5,728.5 288.5,678.5 293.5,636.5 299.5,688.5 304.5,724.5 309.5,636.5 315.5,616.5 320.5,692.5 326.5,683.5 331.5,714.5 336.5,622.5 342.5,700.5 347.5,704.5 352.5,652.5 358.5,697.5 363.5,671.5 368.5,663.5 374.5,693.5 379.5,695.5 384.5,652.5 390.5,548.5 395.5,721.5 400.5,838.5 406.5,838.5 411.5,838.5 416.5,278.5 422.5,151.5 427.5,309.5 432.5,367.5 438.5,345.5 443.5,396.5 448.5,369.5 454.5,388.5 459.5,385.5 465.5,354.5 470.5,468.5 475.5,363.5 481.5,527.5 486.5,659.5 491.5,784.5 497.5,729.5 502.5,642.5 507.5,669.5 513.5,654.5 518.5,698.5 523.5,714.5 529.5,672.5 534.5,696.5 539.5,678.5 545.5,704.5 550.5,724.5 556.5,363.5 561.5,212.5 566.5,296.5 572.5,442.5 577.5,333.5 582.5,321.5 588.5,418.5 593.5,484.5 598.5,443.5 604.5,468.5 609.5,430.5 614.5,639.5 620.5,733.5 625.5,764.5 630.5,676.5 636.5,648.5 641.5,665.5 646.5,700.5 652.5,708.5 657.5,662.5 662.5,728.5 668.5,694.5 673.5,711.5 679.5,685.5 684.5,682.5 689.5,743.5 695.5,769.5 700.5,675.5 705.5,646.5 711.5,626.5 716.5,707.5 721.5,716.5 727.5,698.5 732.5,710.5 737.5,682.5 743.5,704.5 748.5,693.5 753.5,703.5 759.5,672.5 764.5,687.5 770.5,735.5 775.5,646.5 780.5,716.5 786.5,664.5 791.5,690.5 796.5,667.5 802.5,698.5 807.5,663.5 812.5,699.5 818.5,716.5 823.5,689.5 828.5,726.5 834.5,718.5 839.5,703.5 844.5,649.5 850.5,638.5 855.5,666.5 860.5,634.5 866.5,746.5 871.5,700.5 876.5,770.5 882.5,676.5 887.5,665.5 893.5,633.5 898.5,640.5 903.5,734.5 909.5,707.5 914.5,681.5 919.5,677.5 925.5,711.5 930.5,645.5 935.5,718.5 941.5,683.5 946.5,738.5 951.5,632.5 957.5,692.5 962.5,647.5 967.5,678.5 973.5,655.5 978.5,697.5 983.5,659.5 989.5,710.5 994.5,674.5 1000.5,652.5 1005.5,718.5 1010.5,650.5 1016.5,687.5 1021.5,687.5 1026.5,670.5 1032.5,756.5 1037.5,713.5 1042.5,726.5 1048.5,663.5 1053.5,701.5 1058.5,472.5 1064.5,623.5 1069.5,703.5 1074.5,612.5 1080.5,652.5 1085.5,593.5 1090.5,656.5 1096.5,697.5 1101.5,723.5 1106.5,694.5 1112.5,741.5 1117.5,704.5 1123.5,710.5 1128.5,670.5 1133.5,616.5 1139.5,776.5 1144.5,685.5 1149.5,662.5 1155.5,689.5 1160.5,636.5 1165.5,622.5" fill="none" stroke="#ff7f0e" stroke-width="2" stroke-linejoin="round" stroke-linecap="butt"/>
<circle class="h" cx="95.5" cy="708.5" r="9.9"/><circle cx="95.5" cy="708.5" r="5.5" fill="#ff7f0e"/>
<circle class="h" cx="101.5" cy="690.5" r="9.9"/><circle cx="101.5" cy="690.5" r="5.5" fill="#ff7f0e"/>
<circle class="h" cx="106.5" cy="709.5" r="9.9"/><circle cx="106.5" cy="709.5" r="5.5" fill="#ff7f0e"/>
<circle class="h" cx="112.5" cy="690.5" r="9.9"/><circle cx="112.5" cy="690.5" r="5.5" fill="#ff7f0e"/>
<circle class="h" cx="117.5" cy="664.5" r="9.9"/><circle cx="117.5" cy="664.5" r="5.5" fill="#ff7f0e"/>
<circle class="h" cx="122.5" cy="613.5" r="9.9"/><circle cx="122.5" cy="613.5" r="5.5" fill="#ff7f0e"/>
<circle class="h" cx="128.5" cy="676.5" r="9.9"/><circle cx="128.5" cy="676.5" r="5.5" fill="#ff7f0e"/>
<circle class="h" cx="133.5" cy="660.5" r="9.9"/><circle cx="133.5" cy="660.5" r="5.5" fill="#ff7f0e"/>
<circle class="h" cx="138.5" cy="664.5" r="9.9"/><circle cx="138.5" cy="664.5" r="5.5" fill="#ff7f0e"/>
<circle class="h" cx="144.5" cy="728.5" r="9.9"/><circle cx="144.5" cy="728.5" r="5.5" fill="#ff7f0e"/>
<circle class="h" cx="149.5" cy="706.5" r="9.9"/><circle cx="149.5" cy="706.5" r="5.5" fill="#ff7f0e"/>
<circle class="h" cx="154.5" cy="714.5" r="9.9"/><circle cx="154.5" cy="714.5" r="5.5" fill="#ff7f0e"/>
<circle class="h" cx="160.5" cy="738.5" r="9.9"/><circle cx="160.5" cy="738.5" r="5.5" fill="#ff7f0e"/>
<circle class="h" cx="165.5" cy="702.5" r="9.9"/><circle cx="165.5" cy="702.5" r="5.5" fill="#ff7f0e"/>
<circle class="h" cx="170.5" cy="709.5" r="9.9"/><circle cx="170.5" cy="709.5" r="5.5" fill="#ff7f0e"/>
<circle class="h" cx="176.5" cy="572.5" r="9.9"/><circle cx="176.5" cy="572.5" r="5.5" fill="#ff7f0e"/>
<circle class="h" cx="181.5" cy="724.5" r="9.9"/><circle cx="181.5" cy="724.5" r="5.5" fill="#ff7f0e"/>
<circle class="h" cx="186.5" cy="726.5" r="9.9"/><circle cx="186.5" cy="726.5" r="5.5" fill="#ff7f0e"/>
<circle class="h" cx="192.5" cy="676.5" r="9.9"/><circle cx="192.5" cy="676.5" r="5.5" fill="#ff7f0e"/>
<circle class="h" cx="197.5" cy="731.5" r="9.9"/><circle cx="197.5" cy="731.5" r="5.5" fill="#ff7f0e"/>
<circle class="h" cx="202.5" cy="706.5" r="9.9"/><circle cx="202.5" cy="706.5" r="5.5" fill="#ff7f0e"/>
<circle class="h" cx="208.5" cy="651.5" r="9.9"/><circle cx="208.5" cy="651.5" r="5.5" fill="#ff7f0e"/>
<circle class="h" cx="213.5" cy="588.5" r="9.9"/><circle cx="213.5" cy="588.5" r="5.5" fill="#ff7f0e"/>
<circle class="h" cx="218.5" cy="540.5" r="9.9"/><circle cx="218.5" cy="540.5" r="5.5" fill="#ff7f0e"/>
<circle class="h" cx="224.5" cy="838.5" r="9.9"/><circle cx="224.5" cy="838.5" r="5.5" fill="#ff7f0e"/>
<circle class="h" cx="229.5" cy="838.5" r="9.9"/><circle cx="229.5" cy="838.5" r="5.5" fill="#ff7f0e"/>
<circle class="h" cx="235.5" cy="838.5" r="9.9"/><circle cx="235.5" cy="838.5" r="5.5" fill="#ff7f0e"/>
<circle class="h" cx="240.5" cy="838.5" r="9.9"/><circle cx="240.5" cy="838.5" r="5.5" fill="#ff7f0e"/>
<circle class="h" cx="245.5" cy="827.5" r="9.9"/><circle cx="245.5" cy="827.5" r="5.5" fill="#ff7f0e"/>
<circle class="h" cx="251.5" cy="675.5" r="9.9"/><circle cx="251.5" cy="675.5" r="5.5" fill="#ff7f0e"/>
<circle class="h" cx="256.5" cy="681.5" r="9.9"/><circle cx="256.5" cy="681.5" r="5.5" fill="#ff7f0e"/>
<circle class="h" cx="261.5" cy="681.5" r="9.9"/><circle cx="261.5" cy="681.5" r="5.5" fill="#ff7f0e"/>
<circle class="h" cx="267.5" cy="681.5" r="9.9"/><circle cx="267.5" cy="681.5" r="5.5" fill="#ff7f0e"/>
<circle class="h" cx="272.5" cy="658.5" r="9.9"/><circle cx="272.5" cy="658.5" r="5.5" fill="#ff7f0e"/>
<circle class="h" cx="277.5" cy="666.5" r="9.9"/><circle cx="277.5" cy="666.5" r="5.5" fill="#ff7f0e"/>
<circle class="h" cx="283.5" cy="728.5" r="9.9"/><circle cx="283.5" cy="728.5" r="5.5" fill="#ff7f0e"/>
<circle class="h" cx="288.5" cy="678.5" r="9.9"/><circle cx="288.5" cy="678.5" r="5.5" fill="#ff7f0e"/>
<circle class="h" cx="293.5" cy="636.5" r="9.9"/><circle cx="293.5" cy="636.5" r="5.5" fill="#ff7f0e"/>
<circle class="h" cx="299.5" cy="688.5" r="9.9"/><circle cx="299.5" cy="688.5" r="5.5" fill="#ff7f0e"/>
<circle class="h" cx="304.5" cy="724.5" r="9.9"/><circle cx="304.5" cy="724.5" r="5.5" fill="#ff7f0e"/>
<circle class="h" cx="309.5" cy="636.5" r="9.9"/><circle cx="309.5" cy="636.5" r="5.5" fill="#ff7f0e"/>
<circle class="h" cx="315.5" cy="616.5" r="9.9"/><circle cx="315.5" cy="616.5" r="5.5" fill="#ff7f0e"/>
<circle class="h" cx="320.5" cy="692.5" r="9.9"/><circle cx="320.5" cy="692.5" r="5.5" fill="#ff7f0e"/>
<circle class="h" cx="326.5" cy="683.5" r="9.9"/><circle cx="326.5" cy="683.5" r="5.5" fill="#ff7f0e"/>
<circle class="h" cx="331.5" cy="714.5" r="9.9"/><circle cx="331.5" cy="714.5" r="5.5" fill="#ff7f0e"/>
<circle class="h" cx="336.5" cy="622.5" r="9.9"/><circle cx="336.5" cy="622.5" r="5.5" fill="#ff7f0e"/>
<circle class="h" cx="342.5" cy="700.5" r="9.9"/><circle cx="342.5" cy="700.5" r="5.5" fill="#ff7f0e"/>
<circle class="h" cx="347.5" cy="704.5" r="9.9"/><circle cx="347.5" cy="704.5" r="5.5" fill="#ff7f0e"/>
<circle class="h" cx="352.5" cy="652.5" r="9.9"/><circle cx="352.5" cy="652.5" r="5.5" fill="#ff7f0e"/>
<circle class="h" cx="358.5" cy="697.5" r="9.9"/><circle cx="358.5" cy="697.5" r="5.5" fill="#ff7f0e"/>
<circle class="h" cx="363.5" cy="671.5" r="9.9"/><circle cx="363.5" cy="671.5" r="5.5" fill="#ff7f0e"/>
<circle class="h" cx="368.5" cy="663.5" r="9.9"/><circle cx="368.5" cy="663.5" r="5.5" fill="#ff7f0e"/>
<circle class="h" cx="374.5" cy="693.5" r="9.9"/><circle cx="374.5" cy="693.5" r="5.5" fill="#ff7f0e"/>
<circle class="h" cx="379.5" cy="695.5" r="9.9"/><circle cx="379.5" cy="695.5" r="5.5" fill="#ff7f0e"/>
<circle class="h" cx="384.5" cy="652.5" r="9.9"/><circle cx="384.5" cy="652.5" r="5.5" fill="#ff7f0e"/>
<circle class="h" cx="390.5" cy="548.5" r="9.9"/><circle cx="390.5" cy="548.5" r="5.5" fill="#ff7f0e"/>
<circle class="h" cx="395.5" cy="721.5" r="9.9"/><circle cx="395.5" cy="721.5" r="5.5" fill="#ff7f0e"/>
<circle class="h" cx="400.5" cy="838.5" r="9.9"/><circle cx="400.5" cy="838.5" r="5.5" fill="#ff7f0e"/>
<circle class="h" cx="406.5" cy="838.5" r="9.9"/><circle cx="406.5" cy="838.5" r="5.5" fill="#ff7f0e"/>
<circle class="h" cx="411.5" cy="838.5" r="9.9"/><circle cx="411.5" cy="838.5" r="5.5" fill="#ff7f0e"/>
<circle class="h" cx="416.5" cy="278.5" r="9.9"/><circle cx="416.5" cy="278.5" r="5.5" fill="#ff7f0e"/>
<circle class="h" cx="422.5" cy="151.5" r="9.9"/><circle cx="422.5" cy="151.5" r="5.5" fill="#ff7f0e"/>
<circle class="h" cx="427.5" cy="309.5" r="9.9"/><circle cx="427.5" cy="309.5" r="5.5" fill="#ff7f0e"/>
<circle class="h" cx="432.5" cy="367.5" r="9.9"/><circle cx="432.5" cy="367.5" r="5.5" fill="#ff7f0e"/>
<circle class="h" cx="438.5" cy="345.5" r="9.9"/><circle cx="438.5" cy="345.5" r="5.5" fill="#ff7f0e"/>
<circle class="h" cx="443.5" cy="396.5" r="9.9"/><circle cx="443.5" cy="396.5" r="5.5" fill="#ff7f0e"/>
<circle class="h" cx="448.5" cy="369.5" r="9.9"/><circle cx="448.5" cy="369.5" r="5.5" fill="#ff7f0e"/>
<circle class="h" cx="454.5" cy="388.5" r="9.9"/><circle cx="454.5" cy="388.5" r="5.5" fill="#ff7f0e"/>
<circle class="h" cx="459.5" cy="385.5" r="9.9"/><circle cx="459.5" cy="385.5" r="5.5" fill="#ff7f0e"/>
<circle class="h" cx="465.5" cy="354.5" r="9.9"/><circle cx="465.5" cy="354.5" r="5.5" fill="#ff7f0e"/>
<circle class="h" cx="470.5" cy="468.5" r="9.9"/><circle cx="470.5" cy="468.5" r="5.5" fill="#ff7f0e"/>
<circle class="h" cx="475.5" cy="363.5" r="9.9"/><circle cx="475.5" cy="363.5" r="5.5" fill="#ff7f0e"/>
<circle class="h" cx="481.5" cy="527.5" r="9.9"/><circle cx="481.5" cy="527.5" r="5.5" fill="#ff7f0e"/>
<circle class="h" cx="486.5" cy="659.5" r="9.9"/><circle cx="486.5" cy="659.5" r="5.5" fill="#ff7f0e"/>
<circle class="h" cx="491.5" cy="784.5" r="9.9"/><circle cx="491.5" cy="784.5" r="5.5" fill="#ff7f0e"/>
<circle class="h" cx="497.5" cy="729.5" r="9.9"/><circle cx="497.5" cy="729.5" r="5.5" fill="#ff7f0e"/>
<circle class="h" cx="502.5" cy="642.5" r="9.9"/><circle cx="502.5" cy="642.5" r="5.5" fill="#ff7f0e"/>
<circle class="h" cx="507.5" cy="669.5" r="9.9"/><circle cx="507.5" cy="669.5" r="5.5" fill="#ff7f0e"/>
<circle class="h" cx="513.5" cy="654.5" r="9.9"/><circle cx="513.5" cy="654.5" r="5.5" fill="#ff7f0e"/>
<circle class="h" cx="518.5" cy="698.5" r="9.9"/><circle cx="518.5" cy="698.5" r="5.5" fill="#ff7f0e"/>
<circle class="h" cx="523.5" cy="714.5" r="9.9"/><circle cx="523.5" cy="714.5" r="5.5" fill="#ff7f0e"/>
<circle class="h" cx="529.5" cy="672.5" r="9.9"/><circle cx="529.5" cy="672.5" r="5.5" fill="#ff7f0e"/>
<circle class="h" cx="534.5" cy="696.5" r="9.9"/><circle cx="534.5" cy="696.5" r="5.5" fill="#ff7f0e"/>
<circle class="h" cx="539.5" cy="678.5" r="9.9"/><circle cx="539.5" cy="678.5" r="5.5" fill="#ff7f0e"/>
<circle class="h" cx="545.5" cy="704.5" r="9.9"/><circle cx="545.5" cy="704.5" r="5.5" fill="#ff7f0e"/>
<circle class="h" cx="550.5" cy="724.5" r="9.9"/><circle cx="550.5" cy="724.5" r="5.5" fill="#ff7f0e"/>
<circle class="h" cx="556.5" cy="363.5" r="9.9"/><circle cx="556.5" cy="363.5" r="5.5" fill="#ff7f0e"/>
<circle class="h" cx="561.5" cy="212.5" r="9.9"/><circle cx="561.5" cy="212.5" r="5.5" fill="#ff7f0e"/>
<circle class="h" cx="566.5" cy="296.5" r="9.9"/><circle cx="566.5" cy="296.5" r="5.5" fill="#ff7f0e"/>
<circle class="h" cx="572.5" cy="442.5" r="9.9"/><circle cx="572.5" cy="442.5" r="5.5" fill="#ff7f0e"/>
<circle class="h" cx="577.5" cy="333.5" r="9.9"/><circle cx="577.5" cy="333.5" r="5.5" fill="#ff7f0e"/>
<circle class="h" cx="582.5" cy="321.5" r="9.9"/><circle cx="582.5" cy="321.5" r="5.5" fill="#ff7f0e"/>
<circle class="h" cx="588.5" cy="418.5" r="9.9"/><circle cx="588.5" cy="418.5" r="5.5" fill="#ff7f0e"/>
<circle class="h" cx="593.5" cy="484.5" r="9.9"/><circle cx="593.5" cy="484.5" r="5.5" fill="#ff7f0e"/>
<circle class="h" cx="598.5" cy="443.5" r="9.9"/><circle cx="598.5" cy="443.5" r="5.5" fill="#ff7f0e"/>
<circle class="h" cx="604.5" cy="468.5" r="9.9"/><circle cx="604.5" cy="468.5" r="5.5" fill="#ff7f0e"/>
<circle class="h" cx="609.5" cy="430.5" r="9.9"/><circle cx="609.5" cy="430.5" r="5.5" fill="#ff7f0e"/>
<circle class="h" cx="614.5" cy="639.5" r="9.9"/><circle cx="614.5" cy="639.5" r="5.5" fill="#ff7f0e"/>
<circle class="h" cx="620.5" cy="733.5" r="9.9"/><circle cx="620.5" cy="733.5" r="5.5" fill="#ff7f0e"/>
<circle class="h" cx="625.5" cy="764.5" r="9.9"/><circle cx="625.5" cy="764.5" r="5.5" fill="#ff7f0e"/>
<circle class="h" cx="630.5" cy="676.5" r="9.9"/><circle cx="630.5" cy="676.5" r="5.5" fill="#ff7f0e"/>
<circle class="h" cx="636.5" cy="648.5" r="9.9"/><circle cx="636.5" cy="648.5" r="5.5" fill="#ff7f0e"/>
<circle class="h" cx="641.5" cy="665.5" r="9.9"/><circle cx="641.5" cy="665.5" r="5.5" fill="#ff7f0e"/>
<circle class="h" cx="646.5" cy="700.5" r="9.9"/><circle cx="646.5" cy="700.5" r="5.5" fill="#ff7f0e"/>
<circle class="h" cx="652.5" cy="708.5" r="9.9"/><circle cx="652.5" cy="708.5" r="5.5" fill="#ff7f0e"/>
<circle class="h" cx="657.5" cy="662.5" r="9.9"/><circle cx="657.5" cy="662.5" r="5.5" fill="#ff7f0e"/>
<circle class="h" cx="662.5" cy="728.5" r="9.9"/><circle cx="662.5" cy="728.5" r="5.5" fill="#ff7f0e"/>
<circle class="h" cx="668.5" cy="694.5" r="9.9"/><circle cx="668.5" cy="694.5" r="5.5" fill="#ff7f0e"/>
<circle class="h" cx="673.5" cy="711.5" r="9.9"/><circle cx="673.5" cy="711.5" r="5.5" fill="#ff7f0e"/>
<circle class="h" cx="679.5" cy="685.5" r="9.9"/><circle cx="679.5" cy="685.5" r="5.5" fill="#ff7f0e"/>
<circle class="h" cx="684.5" cy="682.5" r="9.9"/><circle cx="684.5" cy="682.5" r="5.5" fill="#ff7f0e"/>
<circle class="h" cx="689.5" cy="743.5" r="9.9"/><circle cx="689.5" cy="743.5" r="5.5" fill="#ff7f0e"/>
<circle class="h" cx="695.5" cy="769.5" r="9.9"/><circle cx="695.5" cy="769.5" r="5.5" fill="#ff7f0e"/>
<circle class="h" cx="700.5" cy="675.5" r="9.9"/><circle cx="700.5" cy="675.5" r="5.5" fill="#ff7f0e"/>
<circle class="h" cx="705.5" cy="646.5" r="9.9"/><circle cx="705.5" cy="646.5" r="5.5" fill="#ff7f0e"/>
<circle class="h" cx="711.5" cy="626.5" r="9.9"/><circle cx="711.5" cy="626.5" r="5.5" fill="#ff7f0e"/>
<circle class="h" cx="716.5" cy="707.5" r="9.9"/><circle cx="716.5" cy="707.5" r="5.5" fill="#ff7f0e"/>
<circle class="h" cx="721.5" cy="716.5" r="9.9"/><circle cx="721.5" cy="716.5" r="5.5" fill="#ff7f0e"/>
<circle class="h" cx="727.5" cy="698.5" r="9.9"/><circle cx="727.5" cy="698.5" r="5.5" fill="#ff7f0e"/>
<circle class="h" cx="732.5" cy="710.5" r="9.9"/><circle cx="732.5" cy="710.5" r="5.5" fill="#ff7f0e"/>
<circle class="h" cx="737.5" cy="682.5" r="9.9"/><circle cx="737.5" cy="682.5" r="5.5" fill="#ff7f0e"/>
<circle class="h" cx="743.5" cy="704.5" r="9.9"/><circle cx="743.5" cy="704.5" r="5.5" fill="#ff7f0e"/>
<circle class="h" cx="748.5" cy="693.5" r="9.9"/><circle cx="748.5" cy="693.5" r="5.5" fill="#ff7f0e"/>
<circle class="h" cx="753.5" cy="703.5" r="9.9"/><circle cx="753.5" cy="703.5" r="5.5" fill="#ff7f0e"/>
<circle class="h" cx="759.5" cy="672.5" r="9.9"/><circle cx="759.5" cy="672.5" r="5.5" fill="#ff7f0e"/>
<circle class="h" cx="764.5" cy="687.5" r="9.9"/><circle cx="764.5" cy="687.5" r="5.5" fill="#ff7f0e"/>
<circle class="h" cx="770.5" cy="735.5" r="9.9"/><circle cx="770.5" cy="735.5" r="5.5" fill="#ff7f0e"/>
<circle class="h" cx="775.5" cy="646.5" r="9.9"/><circle cx="775.5" cy="646.5" r="5.5" fill="#ff7f0e"/>
<circle class="h" cx="780.5" cy="716.5" r="9.9"/><circle cx="780.5" cy="716.5" r="5.5" fill="#ff7f0e"/>
<circle class="h" cx="786.5" cy="664.5" r="9.9"/><circle cx="786.5" cy="664.5" r="5.5" fill="#ff7f0e"/>
<circle class="h" cx="791.5" cy="690.5" r="9.9"/><circle cx="791.5" cy="690.5" r="5.5" fill="#ff7f0e"/>
<circle class="h" cx="796.5" cy="667.5" r="9.9"/><circle cx="796.5" cy="667.5" r="5.5" fill="#ff7f0e"/>
<circle class="h" cx="802.5" cy="698.5" r="9.9"/><circle cx="802.5" cy="698.5" r="5.5" fill="#ff7f0e"/>
<circle class="h" cx="807.5" cy="663.5" r="9.9"/><circle cx="807.5" cy="663.5" r="5.5" fill="#ff7f0e"/>
<circle class="h" cx="812.5" cy="699.5" r="9.9"/><circle cx="812.5" cy="699.5" r="5.5" fill="#ff7f0e"/>
<circle class="h" cx="818.5" cy="716.5" r="9.9"/><circle cx="818.5" cy="716.5" r="5.5" fill="#ff7f0e"/>
<circle class="h" cx="823.5" cy="689.5" r="9.9"/><circle cx="823.5" cy="689.5" r="5.5" fill="#ff7f0e"/>
<circle class="h" cx="828.5" cy="726.5" r="9.9"/><circle cx="828.5" cy="726.5" r="5.5" fill="#ff7f0e"/>
<circle class="h" cx="834.5" cy="718.5" r="9.9"/><circle cx="834.5" cy="718.5" r="5.5" fill="#ff7f0e"/>
<circle class="h" cx="839.5" cy="703.5" r="9.9"/><circle cx="839.5" cy="703.5" r="5.5" fill="#ff7f0e"/>
<circle class="h" cx="844.5" cy="649.5" r="9.9"/><circle cx="844.5" cy="649.5" r="5.5" fill="#ff7f0e"/>
<circle class="h" cx="850.5" cy="638.5" r="9.9"/><circle cx="850.5" cy="638.5" r="5.5" fill="#ff7f0e"/>
<circle class="h" cx="855.5" cy="666.5" r="9.9"/><circle cx="855.5" cy="666.5" r="5.5" fill="#ff7f0e"/>
<circle class="h" cx="860.5" cy="634.5" r="9.9"/><circle cx="860.5" cy="634.5" r="5.5" fill="#ff7f0e"/>
<circle class="h" cx="866.5" cy="746.5" r="9.9"/><circle cx="866.5" cy="746.5" r="5.5" fill="#ff7f0e"/>
<circle class="h" cx="871.5" cy="700.5" r="9.9"/><circle cx="871.5" cy="700.5" r="5.5" fill="#ff7f0e"/>
<circle class="h" cx="876.5" cy="770.5" r="9.9"/><circle cx="876.5" cy="770.5" r="5.5" fill="#ff7f0e"/>
<circle class="h" cx="882.5" cy="676.5" r="9.9"/><circle cx="882.5" cy="676.5" r="5.5" fill="#ff7f0e"/>
<circle class="h" cx="887.5" cy="665.5" r="9.9"/><circle cx="887.5" cy="665.5" r="5.5" fill="#ff7f0e"/>
<circle class="h" cx="893.5" cy="633.5" r="9.9"/><circle cx="893.5" cy="633.5" r="5.5" fill="#ff7f0e"/>
<circle class="h" cx="898.5" cy="640.5" r="9.9"/><circle cx="898.5" cy="640.5" r="5.5" fill="#ff7f0e"/>
<circle class="h" cx="903.5" cy="734.5" r="9.9"/><circle cx="903.5" cy="734.5" r="5.5" fill="#ff7f0e"/>
<circle class="h" cx="909.5" cy="707.5" r="9.9"/><circle cx="909.5" cy="707.5" r="5.5" fill="#ff7f0e"/>
<circle class="h" cx="914.5" cy="681.5" r="9.9"/><circle cx="914.5" cy="681.5" r="5.5" fill="#ff7f0e"/>
<circle class="h" cx="919.5" cy="677.5" r="9.9"/><circle cx="919.5" cy="677.5" r="5.5" fill="#ff7f0e"/>
<circle class="h" cx="925.5" cy="711.5" r="9.9"/><circle cx="925.5" cy="711.5" r="5.5" fill="#ff7f0e"/>
<circle class="h" cx="930.5" cy="645.5" r="9.9"/><circle cx="930.5" cy="645.5" r="5.5" fill="#ff7f0e"/>
<circle class="h" cx="935.5" cy="718.5" r="9.9"/><circle cx="935.5" cy="718.5" r="5.5" fill="#ff7f0e"/>
<circle class="h" cx="941.5" cy="683.5" r="9.9"/><circle cx="941.5" cy="683.5" r="5.5" fill="#ff7f0e"/>
<circle class="h" cx="946.5" cy="738.5" r="9.9"/><circle cx="946.5" cy="738.5" r="5.5" fill="#ff7f0e"/>
<circle class="h" cx="951.5" cy="632.5" r="9.9"/><circle cx="951.5" cy="632.5" r="5.5" fill="#ff7f0e"/>
<circle class="h" cx="957.5" cy="692.5" r="9.9"/><circle cx="957.5" cy="692.5" r="5.5" fill="#ff7f0e"/>
<circle class="h" cx="962.5" cy="647.5" r="9.9"/><circle cx="962.5" cy="647.5" r="5.5" fill="#ff7f0e"/>
<circle class="h" cx="967.5" cy="678.5" r="9.9"/><circle cx="967.5" cy="678.5" r="5.5" fill="#ff7f0e"/>
<circle class="h" cx="973.5" cy="655.5" r="9.9"/><circle cx="973.5" cy="655.5" r="5.5" fill="#ff7f0e"/>
<circle class="h" cx="978.5" cy="697.5" r="9.9"/><circle cx="978.5" cy="697.5" r="5.5" fill="#ff7f0e"/>
<circle class="h" cx="983.5" cy="659.5" r="9.9"/><circle cx="983.5" cy="659.5" r="5.5" fill="#ff7f0e"/>
<circle class="h" cx="989.5" cy="710.5" r="9.9"/><circle cx="989.5" cy="710.5" r="5.5" fill="#ff7f0e"/>
<circle class="h" cx="994.5" cy="674.5" r="9.9"/><circle cx="994.5" cy="674.5" r="5.5" fill="#ff7f0e"/>
<circle class="h" cx="1000.5" cy="652.5" r="9.9"/><circle cx="1000.5" cy="652.5" r="5.5" fill="#ff7f0e"/>
<circle class="h" cx="1005.5" cy="718.5" r="9.9"/><circle cx="1005.5" cy="718.5" r="5.5" fill="#ff7f0e"/>
<circle class="h" cx="1010.5" cy="650.5" r="9.9"/><circle cx="1010.5" cy="650.5" r="5.5" fill="#ff7f0e"/>
<circle class="h" cx="1016.5" cy="687.5" r="9.9"/><circle cx="1016.5" cy="687.5" r="5.5" fill="#ff7f0e"/>
<circle class="h" cx="1021.5" cy="687.5" r="9.9"/><circle cx="1021.5" cy="687.5" r="5.5" fill="#ff7f0e"/>
<circle class="h" cx="1026.5" cy="670.5" r="9.9"/><circle cx="1026.5" cy="670.5" r="5.5" fill="#ff7f0e"/>
<circle class="h" cx="1032.5" cy="756.5" r="9.9"/><circle cx="1032.5" cy="756.5" r="5.5" fill="#ff7f0e"/>
<circle class="h" cx="1037.5" cy="713.5" r="9.9"/><circle cx="1037.5" cy="713.5" r="5.5" fill="#ff7f0e"/>
<circle class="h" cx="1042.5" cy="726.5" r="9.9"/><circle cx="1042.5" cy="726.5" r="5.5" fill="#ff7f0e"/>
<circle class="h" cx="1048.5" cy="663.5" r="9.9"/><circle cx="1048.5" cy="663.5" r="5.5" fill="#ff7f0e"/>
<circle class="h" cx="1053.5" cy="701.5" r="9.9"/><circle cx="1053.5" cy="701.5" r="5.5" fill="#ff7f0e"/>
<circle class="h" cx="1058.5" cy="472.5" r="9.9"/><circle cx="1058.5" cy="472.5" r="5.5" fill="#ff7f0e"/>
<circle class="h" cx="1064.5" cy="623.5" r="9.9"/><circle cx="1064.5" cy="623.5" r="5.5" fill="#ff7f0e"/>
<circle class="h" cx="1069.5" cy="703.5" r="9.9"/><circle cx="1069.5" cy="703.5" r="5.5" fill="#ff7f0e"/>
<circle class="h" cx="1074.5" cy="612.5" r="9.9"/><circle cx="1074.5" cy="612.5" r="5.5" fill="#ff7f0e"/>
<circle class="h" cx="1080.5" cy="652.5" r="9.9"/><circle cx="1080.5" cy="652.5" r="5.5" fill="#ff7f0e"/>
<circle class="h" cx="1085.5" cy="593.5" r="9.9"/><circle cx="1085.5" cy="593.5" r="5.5" fill="#ff7f0e"/>
<circle class="h" cx="1090.5" cy="656.5" r="9.9"/><circle cx="1090.5" cy="656.5" r="5.5" fill="#ff7f0e"/>
<circle class="h" cx="1096.5" cy="697.5" r="9.9"/><circle cx="1096.5" cy="697.5" r="5.5" fill="#ff7f0e"/>
<circle class="h" cx="1101.5" cy="723.5" r="9.9"/><circle cx="1101.5" cy="723.5" r="5.5" fill="#ff7f0e"/>
<circle class="h" cx="1106.5" cy="694.5" r="9.9"/><circle cx="1106.5" cy="694.5" r="5.5" fill="#ff7f0e"/>
<circle class="h" cx="1112.5" cy="741.5" r="9.9"/><circle cx="1112.5" cy="741.5" r="5.5" fill="#ff7f0e"/>
<circle class="h" cx="1117.5" cy="704.5" r="9.9"/><circle cx="1117.5" cy="704.5" r="5.5" fill="#ff7f0e"/>
<circle class="h" cx="1123.5" cy="710.5" r="9.9"/><circle cx="1123.5" cy="710.5" r="5.5" fill="#ff7f0e"/>
<circle class="h" cx="1128.5" cy="670.5" r="9.9"/><circle cx="1128.5" cy="670.5" r="5.5" fill="#ff7f0e"/>
<circle class="h" cx="1133.5" cy="616.5" r="9.9"/><circle cx="1133.5" cy="616.5" r="5.5" fill="#ff7f0e"/>
<circle class="h" cx="1139.5" cy="776.5" r="9.9"/><circle cx="1139.5" cy="776.5" r="5.5" fill="#ff7f0e"/>
<circle class="h" cx="1144.5" cy="685.5" r="9.9"/><circle cx="1144.5" cy="685.5" r="5.5" fill="#ff7f0e"/>
<circle class="h" cx="1149.5" cy="662.5" r="9.9"/><circle cx="1149.5" cy="662.5" r="5.5" fill="#ff7f0e"/>
<circle class="h" cx="1155.5" cy="689.5" r="9.9"/><circle cx="1155.5" cy="689.5" r="5.5" fill="#ff7f0e"/>
<circle class="h" cx="1160.5" cy="636.5" r="9.9"/><circle cx="1160.5" cy="636.5" r="5.5" fill="#ff7f0e"/>
<circle class="h" cx="1165.5" cy="622.5" r="9.9"/><circle cx="1165.5" cy="622.5" r="5.5" fill="#ff7f0e"/>
<text x="1086.5" y="118.3" text-anchor="end" xml:space="preserve">IP (!TCP  !UDP)</text>
<path d="M1097.3 112.5H1145.7" stroke="#2ca02c" stroke-width="2" fill="none"/>
<circle class="h" cx="1121.5" cy="112.5" r="9.9"/><circle cx="1121.5" cy="112.5" r="5.5" fill="#2ca02c"/>
<polyline points="95.5,838.5 101.5,838.5 106.5,838.5 112.5,838.5 117.5,838.5 122.5,838.5 128.5,838.5 133.5,838.5 138.5,838.5 144.5,838.5 149.5,838.5 154.5,838.5 160.5,838.5 165.5,838.5 170.5,838.5 176.5,838.5 181.5,838.5 186.5,838.5 192.5,838.5 197.5,838.5 202.5,838.5 208.5,838.5 213.5,838.5 218.5,838.5 224.5,838.5 229.5,838.5 235.5,838.5 240.5,838.5 245.5,838.5 251.5,838.5 256.5,838.5 261.5,838.5 267.5,838.5 272.5,838.5 277.5,838.5 283.5,838.5 288.5,838.5 293.5,838.5 299.5,838.5 304.5,838.5 309.5,838.5 315.5,838.5 320.5,838.5 326.5,838.5 331.5,838.5 336.5,838.5 342.5,838.5 347.5,838.5 352.5,838.5 358.5,838.5 363.5,838.5 368.5,838.5 374.5,838.5 379.5,838.5 384.5,838.5 390.5,838.5 395.5,838.5 400.5,838.5 406.5,838.5 411.5,838.5 416.5,838.5 422.5,838.5 427.5,838.5 432.5,838.5 438.5,838.5 443.5,838.5 448.5,838.5 454.5,838.5 459.5,838.5 465.5,838.5 470.5,838.5 475.5,838.5 481.5,838.5 486.5,838.5 491.5,838.5 497.5,838.5 502.5,838.5 507.5,838.5 513.5,838.5 518.5,838.5 523.5,838.5 529.5,838.5 534.5,838.5 539.5,838.5 545.5,838.5 550.5,838.5 556.5,838.5 561.5,838.5 566.5,838.5 572.5,838.5 577.5,838.5 582.5,838.5 588.5,838.5 593.5,838.5 598.5,838.5 604.5,838.5 609.5,838.5 614.5,838.5 620.5,838.5 625.5,838.5 630.5,838.5 636.5,838.5 641.5,838.5 646.5,838.5 652.5,838.5 657.5,838.5 662.5,838.5 668.5,838.5 673.5,838.5 679.5,838.5 684.5,838.5 689.5,838.5 695.5,838.5 700.5,838.5 705.5,838.5 711.5,838.5 716.5,838.5 721.5,838.5 727.5,838.5 732.5,838.5 737.5,838.5 743.5,838.5 748.5,838.5 753.5,838.5 759.5,838.5 764.5,838.5 770.5,838.5 775.5,838.5 780.5,838.5 786.5,838.5 791.5,838.5 796.5,838.5 802.5,838.5 807.5,838.5 812.5,838.5 818.5,838.5 823.5,838.5 828.5,838.5 834.5,838.5 839.5,838.5 844.5,838.5 850.5,838.5 855.5,838.5 860.5,838.5 866.5,838.5 871.5,838.5 876.5,838.5 882.5,838.5 887.5,838.5 893.5,838.5 898.5,838.5 903.5,838.5 909.5,838.5 914.5,838.5 919.5,838.5 925.5,838.5 930.5,838.5 935.5,838.5 941.5,838.5 946.5,838.5 951.5,838.5 957.5,838.5 962.5,838.5 967.5,838.5 973.5,838.5 978.5,838.5 983.5,838.5 989.5,838.5 994.5,838.5 1000.5,838.5 1005.5,838.5 1010.5,838.5 1016.5,838.5 1021.5,838.5 1026.5,838.5 1032.5,838.5 1037.5,838.5 1042.5,838.5 1048.5,838.5 1053.5,838.5 1058.5,838.5 1064.5,838.5 1069.5,838.5 1074.5,838.5 1080.5,838.5 1085.5,838.5 1090.5,838.5 1096.5,838.5 1101.5,838.5 1106.5,838.5 1112.5,838.5 1117.5,838.5 1123.5,838.5 1128.5,838.5 1133.5,838.5 1139.5,838.5 1144.5,838.5 1149.5,838.5 1155.5,838.5 1160.5,838.5 1165.5,838.5" fill="none" stroke="#2ca02c" stroke-width="2" stroke-linejoin="round" stroke-linecap="butt"/>
<circle class="h" cx="95.5" cy="838.5" r="9.9"/><circle cx="95.5" cy="838.5" r="5.5" fill="#2ca02c"/>
<circle class="h" cx="101.5" cy="838.5" r="9.9"/><circle cx="101.5" cy="838.5" r="5.5" fill="#2ca02c"/>
<circle class="h" cx="106.5" cy="838.5" r="9.9"/><circle cx="106.5" cy="838.5" r="5.5" fill="#2ca02c"/>
<circle class="h" cx="112.5" cy="838.5" r="9.9"/><circle cx="112.5" cy="838.5" r="5.5" fill="#2ca02c"/>
<circle class="h" cx="117.5" cy="838.5" r="9.9"/><circle cx="117.5" cy="838.5" r="5.5" fill="#2ca02c"/>
<circle class="h" cx="122.5" cy="838.5" r="9.9"/><circle cx="122.5" cy="838.5" r="5.5" fill="#2ca02c"/>
<circle class="h" cx="128.5" cy="838.5" r="9.9"/><circle cx="128.5" cy="838.5" r="5.5" fill="#2ca02c"/>
<circle class="h" cx="133.5" cy="838.5" r="9.9"/><circle cx="133.5" cy="838.5" r="5.5" fill="#2ca02c"/>
<circle class="h" cx="138.5" cy="838.5" r="9.9"/><circle cx="138.5" cy="838.5" r="5.5" fill="#2ca02c"/>
<circle class="h" cx="144.5" cy="838.5" r="9.9"/><circle cx="144.5" cy="838.5" r="5.5" fill="#2ca02c"/>
<circle class="h" cx="149.5" cy="838.5" r="9.9"/><circle cx="149.5" cy="838.5" r="5.5" fill="#2ca02c"/>
<circle class="h" cx="154.5" cy="838.5" r="9.9"/><circle cx="154.5" cy="838.5" r="5.5" fill="#2ca02c"/>
<circle class="h" cx="160.5" cy="838.5" r="9.9"/><circle cx="160.5" cy="838.5" r="5.5" fill="#2ca02c"/>
<circle class="h" cx="165.5" cy="838.5" r="9.9"/><circle cx="165.5" cy="838.5" r="5.5" fill="#2ca02c"/>
<circle class="h" cx="170.5" cy="838.5" r="9.9"/><circle cx="170.5" cy="838.5" r="5.5" fill="#2ca02c"/>
<circle class="h" cx="176.5" cy="838.5" r="9.9"/><circle cx="176.5" cy="838.5" r="5.5" fill="#2ca02c"/>
<circle class="h" cx="181.5" cy="838.5" r="9.9"/><circle cx="181.5" cy="838.5" r="5.5" fill="#2ca02c"/>
<circle class="h" cx="186.5" cy="838.5" r="9.9"/><circle cx="186.5" cy="838.5" r="5.5" fill="#2ca02c"/>
<circle class="h" cx="192.5" cy="838.5" r="9.9"/><circle cx="192.5" cy="838.5" r="5.5" fill="#2ca02c"/>
<circle class="h" cx="197.5" cy="838.5" r="9.9"/><circle cx="197.5" cy="838.5" r="5.5" fill="#2ca02c"/>
<circle class="h" cx="202.5" cy="838.5" r="9.9"/><circle cx="202.5" cy="838.5" r="5.5" fill="#2ca02c"/>
<circle class="h" cx="208.5" cy="838.5" r="9.9"/><circle cx="208.5" cy="838.5" r="5.5" fill="#2ca02c"/>
<circle class="h" cx="213.5" cy="838.5" r="9.9"/><circle cx="213.5" cy="838.5" r="5.5" fill="#2ca02c"/>
<circle class="h" cx="218.5" cy="838.5" r="9.9"/><circle cx="218.5" cy="838.5" r="5.5" fill="#2ca02c"/>
<circle class="h" cx="224.5" cy="838.5" r="9.9"/><circle cx="224.5" cy="838.5" r="5.5" fill="#2ca02c"/>
<circle class="h" cx="229.5" cy="838.5" r="9.9"/><circle cx="229.5" cy="838.5" r="5.5" fill="#2ca02c"/>
<circle class="h" cx="235.5" cy="838.5" r="9.9"/><circle cx="235.5" cy="838.5" r="5.5" fill="#2ca02c"/>
<circle class="h" cx="240.5" cy="838.5" r="9.9"/><circle cx="240.5" cy="838.5" r="5.5" fill="#2ca02c"/>
<circle class="h" cx="245.5" cy="838.5" r="9.9"/><circle cx="245.5" cy="838.5" r="5.5" fill="#2ca02c"/>
<circle class="h" cx="251.5" cy="838.5" r="9.9"/><circle cx="251.5" cy="838.5" r="5.5" fill="#2ca02c"/>
<circle class="h" cx="256.5" cy="838.5" r="9.9"/><circle cx="256.5" cy="838.5" r="5.5" fill="#2ca02c"/>
<circle class="h" cx="261.5" cy="838.5" r="9.9"/><circle cx="261.5" cy="838.5" r="5.5" fill="#2ca02c"/>
<circle class="h" cx="267.5" cy="838.5" r="9.9"/><circle cx="267.5" cy="838.5" r="5.5" fill="#2ca02c"/>
<circle class="h" cx="272.5" cy="838.5" r="9.9"/><circle cx="272.5" cy="838.5" r="5.5" fill="#2ca02c"/>
<circle class="h" cx="277.5" cy="838.5" r="9.9"/><circle cx="277.5" cy="838.5" r="5.5" fill="#2ca02c"/>
<circle class="h" cx="283.5" cy="838.5" r="9.9"/><circle cx="283.5" cy="838.5" r="5.5" fill="#2ca02c"/>
<circle class="h" cx="288.5" cy="838.5" r="9.9"/><circle cx="288.5" cy="838.5" r="5.5" fill="#2ca02c"/>
<circle class="h" cx="293.5" cy="838.5" r="9.9"/><circle cx="293.5" cy="838.5" r="5.5" fill="#2ca02c"/>
<circle class="h" cx="299.5" cy="838.5" r="9.9"/><circle cx="299.5" cy="838.5" r="5.5" fill="#2ca02c"/>
<circle class="h" cx="304.5" cy="838.5" r="9.9"/><circle cx="304.5" cy="838.5" r="5.5" fill="#2ca02c"/>
<circle class="h" cx="309.5" cy="838.5" r="9.9"/><circle cx="309.5" cy="838.5" r="5.5" fill="#2ca02c"/>
<circle class="h" cx="315.5" cy="838.5" r="9.9"/><circle cx="315.5" cy="838.5" r="5.5" fill="#2ca02c"/>
<circle class="h" cx="320.5" cy="838.5" r="9.9"/><circle cx="320.5" cy="838.5" r="5.5" fill="#2ca02c"/>
<circle class="h" cx="326.5" cy="838.5" r="9.9"/><circle cx="326.5" cy="838.5" r="5.5" fill="#2ca02c"/>
<circle class="h" cx="331.5" cy="838.5" r="9.9"/><circle cx="331.5" cy="838.5" r="5.5" fill="#2ca02c"/>
<circle class="h" cx="336.5" cy="838.5" r="9.9"/><circle cx="336.5" cy="838.5" r="5.5" fill="#2ca02c"/>
<circle class="h" cx="342.5" cy="838.5" r="9.9"/><circle cx="342.5" cy="838.5" r="5.5" fill="#2ca02c"/>
<circle class="h" cx="347.5" cy="838.5" r="9.9"/><circle cx="347.5" cy="838.5" r="5.5" fill="#2ca02c"/>
<circle class="h" cx="352.5" cy="838.5" r="9.9"/><circle cx="352.5" cy="838.5" r="5.5" fill="#2ca02c"/>
<circle class="h" cx="358.5" cy="838.5" r="9.9"/><circle cx="358.5" cy="838.5" r="5.5" fill="#2ca02c"/>
<circle class="h" cx="363.5" cy="838.5" r="9.9"/><circle cx="363.5" cy="838.5" r="5.5" fill="#2ca02c"/>
<circle class="h" cx="368.5" cy="838.5" r="9.9"/><circle cx="368.5" cy="838.5" r="5.5" fill="#2ca02c"/>
<circle class="h" cx="374.5" cy="838.5" r="9.9"/><circle cx="374.5" cy="838.5" r="5.5" fill="#2ca02c"/>
<circle class="h" cx="379.5" cy="838.5" r="9.9"/><circle cx="379.5" cy="838.5" r="5.5" fill="#2ca02c"/>
<circle class="h" cx="384.5" cy="838.5" r="9.9"/><circle cx="384.5" cy="838.5" r="5.5" fill="#2ca02c"/>
<circle class="h" cx="390.5" cy="838.5" r="9.9"/><circle cx="390.5" cy="838.5" r="5.5" fill="#2ca02c"/>
<circle class="h" cx="395.5" cy="838.5" r="9.9"/><circle cx="395.5" cy="838.5" r="5.5" fill="#2ca02c"/>
<circle class="h" cx="400.5" cy="838.5" r="9.9"/><circle cx="400.5" cy="838.5" r="5.5" fill="#2ca02c"/>
<circle class="h" cx="406.5" cy="838.5" r="9.9"/><circle cx="406.5" cy="838.5" r="5.5" fill="#2ca02c"/>
<circle class="h" cx="411.5" cy="838.5" r="9.9"/><circle cx="411.5" cy="838.5" r="5.5" fill="#2ca02c"/>
<circle class="h" cx="416.5" cy="838.5" r="9.9"/><circle cx="416.5" cy="838.5" r="5.5" fill="#2ca02c"/>
<circle class="h" cx="422.5" cy="838.5" r="9.9"/><circle cx="422.5" cy="838.5" r="5.5" fill="#2ca02c"/>
<circle class="h" cx="427.5" cy="838.5" r="9.9"/><circle cx="427.5" cy="838.5" r="5.5" fill="#2ca02c"/>
<circle class="h" cx="432.5" cy="838.5" r="9.9"/><circle cx="432.5" cy="838.5" r="5.5" fill="#2ca02c"/>
<circle class="h" cx="438.5" cy="838.5" r="9.9"/><circle cx="438.5" cy="838.5" r="5.5" fill="#2ca02c"/>
<circle class="h" cx="443.5" cy="838.5" r="9.9"/><circle cx="443.5" cy="838.5" r="5.5" fill="#2ca02c"/>
<circle class="h" cx="448.5" cy="838.5" r="9.9"/><circle cx="448.5" cy="838.5" r="5.5" fill="#2ca02c"/>
<circle class="h" cx="454.5" cy="838.5" r="9.9"/><circle cx="454.5" cy="838.5" r="5.5" fill="#2ca02c"/>
<circle class="h" cx="459.5" cy="838.5" r="9.9"/><circle cx="459.5" cy="838.5" r="5.5" fill="#2ca02c"/>
<circle class="h" cx="465.5" cy="838.5" r="9.9"/><circle cx="465.5" cy="838.5" r="5.5" fill="#2ca02c"/>
<circle class="h" cx="470.5" cy="838.5" r="9.9"/><circle cx="470.5" cy="838.5" r="5.5" fill="#2ca02c"/>
<circle class="h" cx="475.5" cy="838.5" r="9.9"/><circle cx="475.5" cy="838.5" r="5.5" fill="#2ca02c"/>
<circle class="h" cx="481.5" cy="838.5" r="9.9"/><circle cx="481.5" cy="838.5" r="5.5" fill="#2ca02c"/>
<circle class="h" cx="486.5" cy="838.5" r="9.9"/><circle cx="486.5" cy="838.5" r="5.5" fill="#2ca02c"/>
<circle class="h" cx="491.5" cy="838.5" r="9.9"/><circle cx="491.5" cy="838.5" r="5.5" fill="#2ca02c"/>
<circle class="h" cx="497.5" cy="838.5" r="9.9"/><circle cx="497.5" cy="838.5" r="5.5" fill="#2ca02c"/>
<circle class="h" cx="502.5" cy="838.5" r="9.9"/><circle cx="502.5" cy="838.5" r="5.5" fill="#2ca02c"/>
<circle class="h" cx="507.5" cy="838.5" r="9.9"/><circle cx="507.5" cy="838.5" r="5.5" fill="#2ca02c"/>
<circle class="h" cx="513.5" cy="838.5" r="9.9"/><circle cx="513.5" cy="838.5" r="5.5" fill="#2ca02c"/>
<circle class="h" cx="518.5" cy="838.5" r="9.9"/><circle cx="518.5" cy="838.5" r="5.5" fill="#2ca02c"/>
<circle class="h" cx="523.5" cy="838.5" r="9.9"/><circle cx="523.5" cy="838.5" r="5.5" fill="#2ca02c"/>
<circle class="h" cx="529.5" cy="838.5" r="9.9"/><circle cx="529.5" cy="838.5" r="5.5" fill="#2ca02c"/>
<circle class="h" cx="534.5" cy="838.5" r="9.9"/><circle cx="534.5" cy="838.5" r="5.5" fill="#2ca02c"/>
<circle class="h" cx="539.5" cy="838.5" r="9.9"/><circle cx="539.5" cy="838.5" r="5.5" fill="#2ca02c"/>
<circle class="h" cx="545.5" cy="838.5" r="9.9"/><circle cx="545.5" cy="838.5" r="5.5" fill="#2ca02c"/>
<circle class="h" cx="550.5" cy="838.5" r="9.9"/><circle cx="550.5" cy="838.5" r="5.5" fill="#2ca02c"/>
<circle class="h" cx="556.5" cy="838.5" r="9.9"/><circle cx="556.5" cy="838.5" r="5.5" fill="#2ca02c"/>
<circle class="h" cx="561.5" cy="838.5" r="9.9"/><circle cx="561.5" cy="838.5" r="5.5" fill="#2ca02c"/>
<circle class="h" cx="566.5" cy="838.5" r="9.9"/><circle cx="566.5" cy="838.5" r="5.5" fill="#2ca02c"/>
<circle class="h" cx="572.5" cy="838.5" r="9.9"/><circle cx="572.5" cy="838.5" r="5.5" fill="#2ca02c"/>
<circle class="h" cx="577.5" cy="838.5" r="9.9"/><circle cx="577.5" cy="838.5" r="5.5" fill="#2ca02c"/>
<circle class="h" cx="582.5" cy="838.5" r="9.9"/><circle cx="582.5" cy="838.5" r="5.5" fill="#2ca02c"/>
<circle class="h" cx="588.5" cy="838.5" r="9.9"/><circle cx="588.5" cy="838.5" r="5.5" fill="#2ca02c"/>
<circle class="h" cx="593.5" cy="838.5" r="9.9"/><circle cx="593.5" cy="838.5" r="5.5" fill="#2ca02c"/>
<circle class="h" cx="598.5" cy="838.5" r="9.9"/><circle cx="598.5" cy="838.5" r="5.5" fill="#2ca02c"/>
<circle class="h" cx="604.5" cy="838.5" r="9.9"/><circle cx="604.5" cy="838.5" r="5.5" fill="#2ca02c"/>
<circle class="h" cx="609.5" cy="838.5" r="9.9"/><circle cx="609.5" cy="838.5" r="5.5" fill="#2ca02c"/>
<circle class="h" cx="614.5" cy="838.5" r="9.9"/><circle cx="614.5" cy="838.5" r="5.5" fill="#2ca02c"/>
<circle class="h" cx="620.5" cy="838.5" r="9.9"/><circle cx="620.5" cy="838.5" r="5.5" fill="#2ca02c"/>
<circle class="h" cx="625.5" cy="838.5" r="9.9"/><circle cx="625.5" cy="838.5" r="5.5" fill="#2ca02c"/>
<circle class="h" cx="630.5" cy="838.5" r="9.9"/><circle cx="630.5" cy="838.5" r="5.5" fill="#2ca02c"/>
<circle class="h" cx="636.5" cy="838.5" r="9.9"/><circle cx="636.5" cy="838.5" r="5.5" fill="#2ca02c"/>
<circle class="h" cx="641.5" cy="838.5" r="9.9"/><circle cx="641.5" cy="838.5" r="5.5" fill="#2ca02c"/>
<circle class="h" cx="646.5" cy="838.5" r="9.9"/><circle cx="646.5" cy="838.5" r="5.5" fill="#2ca02c"/>
<circle class="h" cx="652.5" cy="838.5" r="9.9"/><circle cx="652.5" cy="838.5" r="5.5" fill="#2ca02c"/>
<circle class="h" cx="657.5" cy="838.5" r="9.9"/><circle cx="657.5" cy="838.5" r="5.5" fill="#2ca02c"/>
<circle class="h" cx="662.5" cy="838.5" r="9.9"/><circle cx="662.5" cy="838.5" r="5.5" fill="#2ca02c"/>
<circle class="h" cx="668.5" cy="838.5" r="9.9"/><circle cx="668.5" cy="838.5" r="5.5" fill="#2ca02c"/>
<circle class="h" cx="673.5" cy="838.5" r="9.9"/><circle cx="673.5" cy="838.5" r="5.5" fill="#2ca02c"/>
<circle class="h" cx="679.5" cy="838.5" r="9.9"/><circle cx="679.5" cy="838.5" r="5.5" fill="#2ca02c"/>
<circle class="h" cx="684.5" cy="838.5" r="9.9"/><circle cx="684.5" cy="838.5" r="5.5" fill="#2ca02c"/>
<circle class="h" cx="689.5" cy="838.5" r="9.9"/><circle cx="689.5" cy="838.5" r="5.5" fill="#2ca02c"/>
<circle class="h" cx="695.5" cy="838.5" r="9.9"/><circle cx="695.5" cy="838.5" r="5.5" fill="#2ca02c"/>
<circle class="h" cx="700.5" cy="838.5" r="9.9"/><circle cx="700.5" cy="838.5" r="5.5" fill="#2ca02c"/>
<circle class="h" cx="705.5" cy="838.5" r="9.9"/><circle cx="705.5" cy="838.5" r="5.5" fill="#2ca02c"/>
<circle class="h" cx="711.5" cy="838.5" r="9.9"/><circle cx="711.5" cy="838.5" r="5.5" fill="#2ca02c"/>
<circle class="h" cx="716.5" cy="838.5" r="9.9"/><circle cx="716.5" cy="838.5" r="5.5" fill="#2ca02c"/>
<circle class="h" cx="721.5" cy="838.5" r="9.9"/><circle cx="721.5" cy="838.5" r="5.5" fill="#2ca02c"/>
<circle class="h" cx="727.5" cy="838.5" r="9.9"/><circle cx="727.5" cy="838.5" r="5.5" fill="#2ca02c"/>
<circle class="h" cx="732.5" cy="838.5" r="9.9"/><circle cx="732.5" cy="838.5" r="5.5" fill="#2ca02c"/>
<circle class="h" cx="737.5" cy="838.5" r="9.9"/><circle cx="737.5" cy="838.5" r="5.5" fill="#2ca02c"/>
<circle class="h" cx="743.5" cy="838.5" r="9.9"/><circle cx="743.5" cy="838.5" r="5.5" fill="#2ca02c"/>
<circle class="h" cx="748.5" cy="838.5" r="9.9"/><circle cx="748.5" cy="838.5" r="5.5" fill="#2ca02c"/>
<circle class="h" cx="753.5" cy="838.5" r="9.9"/><circle cx="753.5" cy="838.5" r="5.5" fill="#2ca02c"/>
<circle class="h" cx="759.5" cy="838.5" r="9.9"/><circle cx="759.5" cy="838.5" r="5.5" fill="#2ca02c"/>
<circle class="h" cx="764.5" cy="838.5" r="9.9"/><circle cx="764.5" cy="838.5" r="5.5" fill="#2ca02c"/>
<circle class="h" cx="770.5" cy="838.5" r="9.9"/><circle cx="770.5" cy="838.5" r="5.5" fill="#2ca02c"/>
<circle class="h" cx="775.5" cy="838.5" r="9.9"/><circle cx="775.5" cy="838.5" r="5.5" fill="#2ca02c"/>
<circle class="h" cx="780.5" cy="838.5" r="9.9"/><circle cx="780.5" cy="838.5" r="5.5" fill="#2ca02c"/>
<circle class="h" cx="786.5" cy="838.5" r="9.9"/><circle cx="786.5" cy="838.5" r="5.5" fill="#2ca02c"/>
<circle class="h" cx="791.5" cy="838.5" r="9.9"/><circle cx="791.5" cy="838.5" r="5.5" fill="#2ca02c"/>
<circle class="h" cx="796.5" cy="838.5" r="9.9"/><circle cx="796.5" cy="838.5" r="5.5" fill="#2ca02c"/>
<circle class="h" cx="802.5" cy="838.5" r="9.9"/><circle cx="802.5" cy="838.5" r="5.5" fill="#2ca02c"/>
<circle class="h" cx="807.5" cy="838.5" r="9.9"/><circle cx="807.5" cy="838.5" r="5.5" fill="#2ca02c"/>
<circle class="h" cx="812.5" cy="838.5" r="9.9"/><circle cx="812.5" cy="838.5" r="5.5" fill="#2ca02c"/>
<circle class="h" cx="818.5" cy="838.5" r="9.9"/><circle cx="818.5" cy="838.5" r="5.5" fill="#2ca02c"/>
<circle class="h" cx="823.5" cy="838.5" r="9.9"/><circle cx="823.5" cy="838.5" r="5.5" fill="#2ca02c"/>
<circle class="h" cx="828.5" cy="838.5" r="9.9"/><circle cx="828.5" cy="838.5" r="5.5" fill="#2ca02c"/>
<circle class="h" cx="834.5" cy="838.5" r="9.9"/><circle cx="834.5" cy="838.5" r="5.5" fill="#2ca02c"/>
<circle class="h" cx="839.5" cy="838.5" r="9.9"/><circle cx="839.5" cy="838.5" r="5.5" fill="#2ca02c"/>
<circle class="h" cx="844.5" cy="838.5" r="9.9"/><circle cx="844.5" cy="838.5" r="5.5" fill="#2ca02c"/>
<circle class="h" cx="850.5" cy="838.5" r="9.9"/><circle cx="850.5" cy="838.5" r="5.5" fill="#2ca02c"/>
<circle class="h" cx="855.5" cy="838.5" r="9.9"/><circle cx="855.5" cy="838.5" r="5.5" fill="#2ca02c"/>
<circle class="h" cx="860.5" cy="838.5" r="9.9"/><circle cx="860.5" cy="838.5" r="5.5" fill="#2ca02c"/>
<circle class="h" cx="866.5" cy="838.5" r="9.9"/><circle cx="866.5" cy="838.5" r="5.5" fill="#2ca02c"/>
<circle class="h" cx="871.5" cy="838.5" r="9.9"/><circle cx="871.5" cy="838.5" r="5.5" fill="#2ca02c"/>
<circle class="h" cx="876.5" cy="838.5" r="9.9"/><circle cx="876.5" cy="838.5" r="5.5" fill="#2ca02c"/>
<circle class="h" cx="882.5" cy="838.5" r="9.9"/><circle cx="882.5" cy="838.5" r="5.5" fill="#2ca02c"/>
<circle class="h" cx="887.5" cy="838.5" r="9.9"/><circle cx="887.5" cy="838.5" r="5.5" fill="#2ca02c"/>
<circle class="h" cx="893.5" cy="838.5" r="9.9"/><circle cx="893.5" cy="838.5" r="5.5" fill="#2ca02c"/>
<circle class="h" cx="898.5" cy="838.5" r="9.9"/><circle cx="898.5" cy="838.5" r="5.5" fill="#2ca02c"/>
<circle class="h" cx="903.5" cy="838.5" r="9.9"/><circle cx="903.5" cy="838.5" r="5.5" fill="#2ca02c"/>
<circle class="h" cx="909.5" cy="838.5" r="9.9"/><circle cx="909.5" cy="838.5" r="5.5" fill="#2ca02c"/>
<circle class="h" cx="914.5" cy="838.5" r="9.9"/><circle cx="914.5" cy="838.5" r="5.5" fill="#2ca02c"/>
<circle class="h" cx="919.5" cy="838.5" r="9.9"/><circle cx="919.5" cy="838.5" r="5.5" fill="#2ca02c"/>
<circle class="h" cx="925.5" cy="838.5" r="9.9"/><circle cx="925.5" cy="838.5" r="5.5" fill="#2ca02c"/>
<circle class="h" cx="930.5" cy="838.5" r="9.9"/><circle cx="930.5" cy="838.5" r="5.5" fill="#2ca02c"/>
<circle class="h" cx="935.5" cy="838.5" r="9.9"/><circle cx="935.5" cy="838.5" r="5.5" fill="#2ca02c"/>
<circle class="h" cx="941.5" cy="838.5" r="9.9"/><circle cx="941.5" cy="838.5" r="5.5" fill="#2ca02c"/>
<circle class="h" cx="946.5" cy="838.5" r="9.9"/><circle cx="946.5" cy="838.5" r="5.5" fill="#2ca02c"/>
<circle class="h" cx="951.5" cy="838.5" r="9.9"/><circle cx="951.5" cy="838.5" r="5.5" fill="#2ca02c"/>
<circle class="h" cx="957.5" cy="838.5" r="9.9"/><circle cx="957.5" cy="838.5" r="5.5" fill="#2ca02c"/>
<circle class="h" cx="962.5" cy="838.5" r="9.9"/><circle cx="962.5" cy="838.5" r="5.5" fill="#2ca02c"/>
<circle class="h" cx="967.5" cy="838.5" r="9.9"/><circle cx="967.5" cy="838.5" r="5.5" fill="#2ca02c"/>
<circle class="h" cx="973.5" cy="838.5" r="9.9"/><circle cx="973.5" cy="838.5" r="5.5" fill="#2ca02c"/>
<circle class="h" cx="978.5" cy="838.5" r="9.9"/><circle cx="978.5" cy="838.5" r="5.5" fill="#2ca02c"/>
<circle class="h" cx="983.5" cy="838.5" r="9.9"/><circle cx="983.5" cy="838.5" r="5.5" fill="#2ca02c"/>
<circle class="h" cx="989.5" cy="838.5" r="9.9"/><circle cx="989.5" cy="838.5" r="5.5" fill="#2ca02c"/>
<circle class="h" cx="994.5" cy="838.5" r="9.9"/><circle cx="994.5" cy="838.5" r="5.5" fill="#2ca02c"/>
<circle class="h" cx="1000.5" cy="838.5" r="9.9"/><circle cx="1000.5" cy="838.5" r="5.5" fill="#2ca02c"/>
<circle class="h" cx="1005.5" cy="838.5" r="9.9"/><circle cx="1005.5" cy="838.5" r="5.5" fill="#2ca02c"/>
<circle class="h" cx="1010.5" cy="838.5" r="9.9"/><circle cx="1010.5" cy="838.5" r="5.5" fill="#2ca02c"/>
<circle class="h" cx="1016.5" cy="838.5" r="9.9"/><circle cx="1016.5" cy="838.5" r="5.5" fill="#2ca02c"/>
<circle class="h" cx="1021.5" cy="838.5" r="9.9"/><circle cx="1021.5" cy="838.5" r="5.5" fill="#2ca02c"/>
<circle class="h" cx="1026.5" cy="838.5" r="9.9"/><circle cx="1026.5" cy="838.5" r="5.5" fill="#2ca02c"/>
<circle class="h" cx="1032.5" cy="838.5" r="9.9"/><circle cx="1032.5" cy="838.5" r="5.5" fill="#2ca02c"/>
<circle class="h" cx="1037.5" cy="838.5" r="9.9"/><circle cx="1037.5" cy="838.5" r="5.5" fill="#2ca02c"/>
<circle class="h" cx="1042.5" cy="838.5" r="9.9"/><circle cx="1042.5" cy="838.5" r="5.5" fill="#2ca02c"/>
<circle class="h" cx="1048.5" cy="838.5" r="9.9"/><circle cx="1048.5" cy="838.5" r="5.5" fill="#2ca02c"/>
<circle class="h" cx="1053.5" cy="838.5" r="9.9"/><circle cx="1053.5" cy="838.5" r="5.5" fill="#2ca02c"/>
<circle class="h" cx="1058.5" cy="838.5" r="9.9"/><circle cx="1058.5" cy="838.5" r="5.5" fill="#2ca02c"/>
<circle class="h" cx="1064.5" cy="838.5" r="9.9"/><circle cx="1064.5" cy="838.5" r="5.5" fill="#2ca02c"/>
<circle class="h" cx="1069.5" cy="838.5" r="9.9"/><circle cx="1069.5" cy="838.5" r="5.5" fill="#2ca02c"/>
<circle class="h" cx="1074.5" cy="838.5" r="9.9"/><circle cx="1074.5" cy="838.5" r="5.5" fill="#2ca02c"/>
<circle class="h" cx="1080.5" cy="838.5" r="9.9"/><circle cx="1080.5" cy="838.5" r="5.5" fill="#2ca02c"/>
<circle class="h" cx="1085.5" cy="838.5" r="9.9"/><circle cx="1085.5" cy="838.5" r="5.5" fill="#2ca02c"/>
<circle class="h" cx="1090.5" cy="838.5" r="9.9"/><circle cx="1090.5" cy="838.5" r="5.5" fill="#2ca02c"/>
<circle class="h" cx="1096.5" cy="838.5" r="9.9"/><circle cx="1096.5" cy="838.5" r="5.5" fill="#2ca02c"/>
<circle class="h" cx="1101.5" cy="838.5" r="9.9"/><circle cx="1101.5" cy="838.5" r="5.5" fill="#2ca02c"/>
<circle class="h" cx="1106.5" cy="838.5" r="9.9"/><circle cx="1106.5" cy="838.5" r="5.5" fill="#2ca02c"/>
<circle class="h" cx="1112.5" cy="838.5" r="9.9"/><circle cx="1112.5" cy="838.5" r="5.5" fill="#2ca02c"/>
<circle class="h" cx="1117.5" cy="838.5" r="9.9"/><circle cx="1117.5" cy="838.5" r="5.5" fill="#2ca02c"/>
<circle class="h" cx="1123.5" cy="838.5" r="9.9"/><circle cx="1123.5" cy="838.5" r="5.5" fill="#2ca02c"/>
<circle class="h" cx="1128.5" cy="838.5" r="9.9"/><circle cx="1128.5" cy="838.5" r="5.5" fill="#2ca02c"/>
<circle class="h" cx="1133.5" cy="838.5" r="9.9"/><circle cx="1133.5" cy="838.5" r="5.5" fill="#2ca02c"/>
<circle class="h" cx="1139.5" cy="838.5" r="9.9"/><circle cx="1139.5" cy="838.5" r="5.5" fill="#2ca02c"/>
<circle class="h" cx="1144.5" cy="838.5" r="9.9"/><circle cx="1144.5" cy="838.5" r="5.5" fill="#2ca02c"/>
<circle class="h" cx="1149.5" cy="838.5" r="9.9"/><circle cx="1149.5" cy="838.5" r="5.5" fill="#2ca02c"/>
<circle class="h" cx="1155.5" cy="838.5" r="9.9"/><circle cx="1155.5" cy="838.5" r="5.5" fill="#2ca02c"/>
<circle class="h" cx="1160.5" cy="838.5" r="9.9"/><circle cx="1160.5" cy="838.5" r="5.5" fill="#2ca02c"/>
<circle class="h" cx="1165.5" cy="838.5" r="9.9"/><circle cx="1165.5" cy="838.5" r="5.5" fill="#2ca02c"/>
</g>
<path class="t" d="M95.5 57.5V838.5H1165.5"/>
<text x="86.3" y="844.85" text-anchor="end">0</text>
<text x="86.3" y="733.2" text-anchor="end">200</text>
<text x="86.3" y="621.55" text-anchor="end">400</text>
<text x="86.3" y="509.9" text-anchor="end">600</text>
<text x="86.3" y="398.25" text-anchor="end">800</text>
<text x="86.3" y="286.6" text-anchor="end">1000</text>
<text x="86.3" y="174.95" text-anchor="end">1200</text>
<text x="86.3" y="63.3" text-anchor="end">1400</text>
<text x="98.6" y="863.6" text-anchor="middle">0</text>
<text x="366.1" y="863.6" text-anchor="middle">50</text>
<text x="633.6" y="863.6" text-anchor="middle">100</text>
<text x="901.1" y="863.6" text-anchor="middle">150</text>
<text x="1168.6" y="863.6" text-anchor="middle">200</text>
<text x="630.5" y="891.5" text-anchor="middle">Time (s)</text>
<text transform="translate(23.9 448.3) rotate(-90)" text-anchor="middle">Packets</text>
<text x="1.3" y="35.9" xml:space="preserve">ht/corpus/julyreruns/tiered/wireguard/experiment<tspan dy="3.2" font-size="12.8px">3</tspan><tspan dy="-3.2">/eth1</tspan><tspan dy="3.2" font-size="12.8px">i</tspan><tspan dy="-3.2">nterface/ptp/exp-c-720-html5-http1/1659073299-c0.wgptp.tiered.pharos-wireguardptp-c-video</tspan></text>
</svg></body></html>
